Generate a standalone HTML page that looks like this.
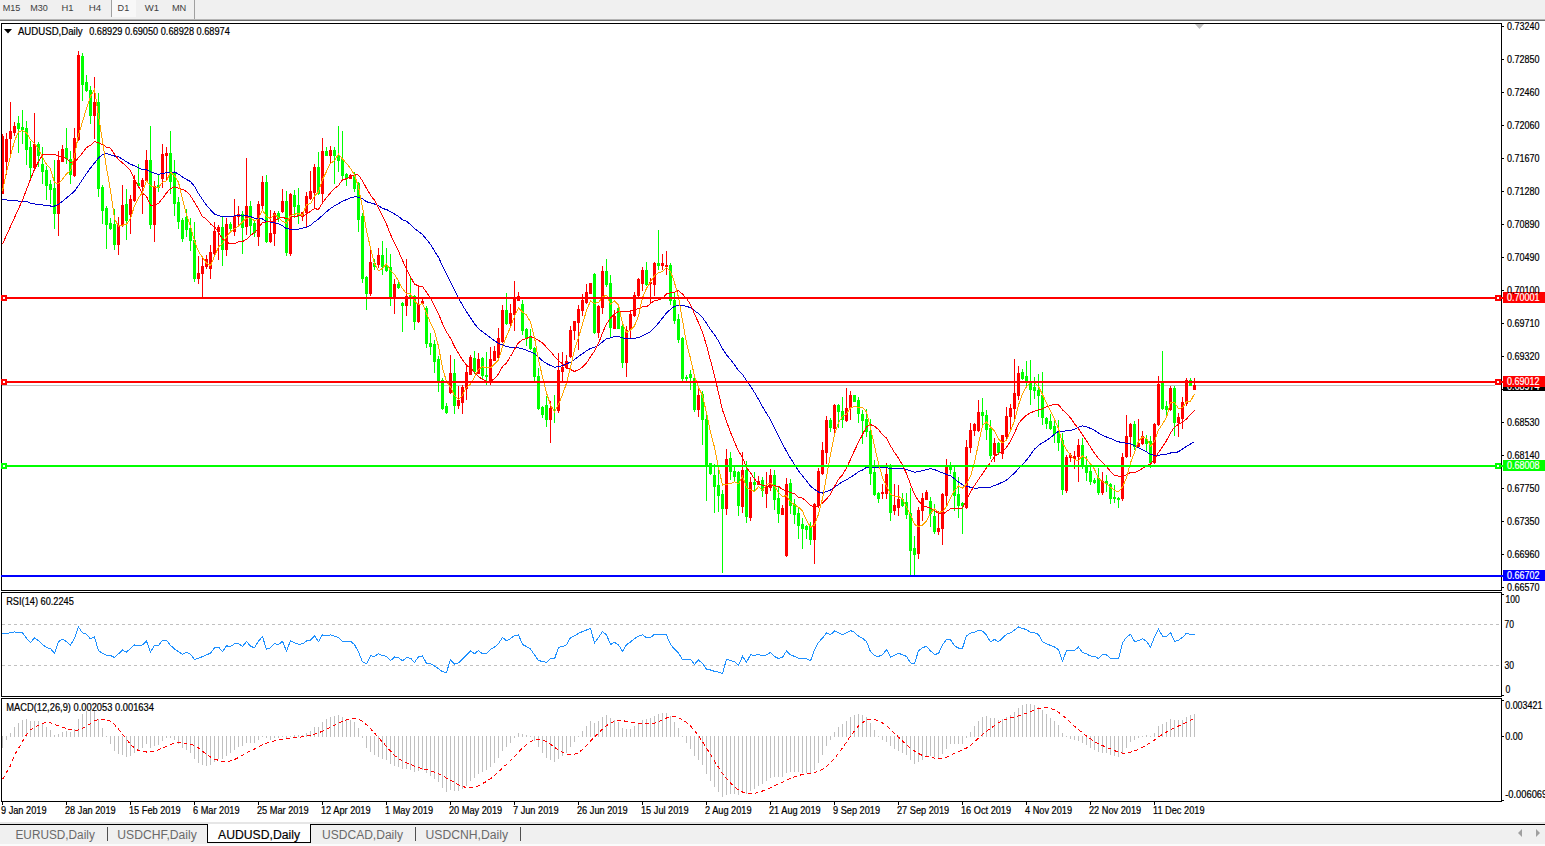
<!DOCTYPE html>
<html><head><meta charset="utf-8"><style>
html,body{margin:0;padding:0;background:#fff;width:1545px;height:846px;overflow:hidden;}
svg{position:absolute;left:0;top:0;}
text{font-family:"Liberation Sans",sans-serif;white-space:pre;stroke:currentColor;stroke-width:0.2px;}
</style></head><body>
<svg width="1545" height="846" viewBox="0 0 1545 846" shape-rendering="crispEdges">
<rect x="0" y="0" width="1545" height="19" fill="#f0f0f0"/>
<rect x="112" y="0" width="24" height="17" fill="#f8f8f8"/>
<rect x="0" y="19" width="1545" height="1" fill="#b4b4b4"/>
<rect x="0" y="20" width="1545" height="1" fill="#6e6e6e"/>
<rect x="111" y="0" width="1" height="17" fill="#a0a0a0"/>
<rect x="194" y="0" width="1" height="19" fill="#a0a0a0"/>
<polygon points="1195,24 1204,24 1199.5,29" fill="#c0c0c0" shape-rendering="auto"/>

<rect x="2" y="385" width="1493" height="1" fill="#c0c0c0"/>
<g><rect x="2" y="134" width="1" height="60" fill="#ff0000"/>
<rect x="1" y="136" width="3" height="58" fill="#ff0000"/>
<rect x="6" y="133" width="1" height="42" fill="#ff0000"/>
<rect x="5" y="139" width="3" height="23" fill="#ff0000"/>
<rect x="10" y="102" width="1" height="54" fill="#ff0000"/>
<rect x="9" y="131" width="3" height="8" fill="#ff0000"/>
<rect x="14" y="122" width="1" height="14" fill="#ff0000"/>
<rect x="13" y="126" width="3" height="7" fill="#ff0000"/>
<rect x="18" y="116" width="1" height="37" fill="#00ff00"/>
<rect x="17" y="123" width="3" height="6" fill="#00ff00"/>
<rect x="22" y="110" width="1" height="34" fill="#00ff00"/>
<rect x="21" y="127" width="3" height="3" fill="#00ff00"/>
<rect x="26" y="121" width="1" height="44" fill="#00ff00"/>
<rect x="25" y="128" width="3" height="22" fill="#00ff00"/>
<rect x="30" y="141" width="1" height="37" fill="#00ff00"/>
<rect x="29" y="147" width="3" height="21" fill="#00ff00"/>
<rect x="34" y="113" width="1" height="56" fill="#ff0000"/>
<rect x="33" y="144" width="3" height="24" fill="#ff0000"/>
<rect x="38" y="142" width="1" height="25" fill="#00ff00"/>
<rect x="37" y="144" width="3" height="12" fill="#00ff00"/>
<rect x="42" y="147" width="1" height="37" fill="#00ff00"/>
<rect x="41" y="164" width="3" height="8" fill="#00ff00"/>
<rect x="46" y="166" width="1" height="34" fill="#00ff00"/>
<rect x="45" y="170" width="3" height="16" fill="#00ff00"/>
<rect x="50" y="180" width="1" height="24" fill="#00ff00"/>
<rect x="49" y="184" width="3" height="6" fill="#00ff00"/>
<rect x="54" y="160" width="1" height="69" fill="#00ff00"/>
<rect x="53" y="188" width="3" height="26" fill="#00ff00"/>
<rect x="58" y="151" width="1" height="85" fill="#ff0000"/>
<rect x="57" y="160" width="3" height="54" fill="#ff0000"/>
<rect x="62" y="145" width="1" height="17" fill="#ff0000"/>
<rect x="61" y="149" width="3" height="13" fill="#ff0000"/>
<rect x="66" y="128" width="1" height="36" fill="#00ff00"/>
<rect x="65" y="148" width="3" height="11" fill="#00ff00"/>
<rect x="70" y="151" width="1" height="33" fill="#00ff00"/>
<rect x="69" y="159" width="3" height="16" fill="#00ff00"/>
<rect x="74" y="128" width="1" height="49" fill="#ff0000"/>
<rect x="73" y="138" width="3" height="38" fill="#ff0000"/>
<rect x="78" y="51" width="1" height="90" fill="#ff0000"/>
<rect x="77" y="55" width="3" height="85" fill="#ff0000"/>
<rect x="82" y="53" width="1" height="48" fill="#00ff00"/>
<rect x="81" y="56" width="3" height="29" fill="#00ff00"/>
<rect x="86" y="75" width="1" height="17" fill="#00ff00"/>
<rect x="85" y="82" width="3" height="9" fill="#00ff00"/>
<rect x="90" y="86" width="1" height="38" fill="#00ff00"/>
<rect x="89" y="90" width="3" height="26" fill="#00ff00"/>
<rect x="94" y="77" width="1" height="62" fill="#ff0000"/>
<rect x="93" y="102" width="3" height="14" fill="#ff0000"/>
<rect x="98" y="93" width="1" height="104" fill="#00ff00"/>
<rect x="97" y="102" width="3" height="87" fill="#00ff00"/>
<rect x="102" y="185" width="1" height="39" fill="#00ff00"/>
<rect x="101" y="187" width="3" height="24" fill="#00ff00"/>
<rect x="106" y="206" width="1" height="43" fill="#00ff00"/>
<rect x="105" y="208" width="3" height="17" fill="#00ff00"/>
<rect x="110" y="218" width="1" height="12" fill="#00ff00"/>
<rect x="109" y="223" width="3" height="6" fill="#00ff00"/>
<rect x="114" y="209" width="1" height="41" fill="#00ff00"/>
<rect x="113" y="224" width="3" height="21" fill="#00ff00"/>
<rect x="118" y="217" width="1" height="38" fill="#ff0000"/>
<rect x="117" y="225" width="3" height="20" fill="#ff0000"/>
<rect x="122" y="185" width="1" height="42" fill="#ff0000"/>
<rect x="121" y="205" width="3" height="21" fill="#ff0000"/>
<rect x="126" y="189" width="1" height="51" fill="#00ff00"/>
<rect x="125" y="204" width="3" height="17" fill="#00ff00"/>
<rect x="130" y="195" width="1" height="39" fill="#ff0000"/>
<rect x="129" y="199" width="3" height="16" fill="#ff0000"/>
<rect x="134" y="175" width="1" height="27" fill="#ff0000"/>
<rect x="133" y="180" width="3" height="21" fill="#ff0000"/>
<rect x="138" y="164" width="1" height="23" fill="#00ff00"/>
<rect x="137" y="183" width="3" height="3" fill="#00ff00"/>
<rect x="142" y="178" width="1" height="36" fill="#ff0000"/>
<rect x="141" y="180" width="3" height="7" fill="#ff0000"/>
<rect x="146" y="150" width="1" height="32" fill="#ff0000"/>
<rect x="145" y="160" width="3" height="21" fill="#ff0000"/>
<rect x="150" y="126" width="1" height="103" fill="#00ff00"/>
<rect x="149" y="160" width="3" height="65" fill="#00ff00"/>
<rect x="154" y="181" width="1" height="61" fill="#ff0000"/>
<rect x="153" y="186" width="3" height="39" fill="#ff0000"/>
<rect x="158" y="175" width="1" height="17" fill="#00ff00"/>
<rect x="157" y="185" width="3" height="3" fill="#00ff00"/>
<rect x="162" y="144" width="1" height="44" fill="#ff0000"/>
<rect x="161" y="154" width="3" height="25" fill="#ff0000"/>
<rect x="166" y="147" width="1" height="34" fill="#ff0000"/>
<rect x="165" y="153" width="3" height="3" fill="#ff0000"/>
<rect x="170" y="131" width="1" height="63" fill="#00ff00"/>
<rect x="169" y="153" width="3" height="29" fill="#00ff00"/>
<rect x="174" y="160" width="1" height="56" fill="#00ff00"/>
<rect x="173" y="173" width="3" height="31" fill="#00ff00"/>
<rect x="178" y="197" width="1" height="32" fill="#00ff00"/>
<rect x="177" y="202" width="3" height="20" fill="#00ff00"/>
<rect x="182" y="218" width="1" height="24" fill="#00ff00"/>
<rect x="181" y="220" width="3" height="19" fill="#00ff00"/>
<rect x="186" y="209" width="1" height="28" fill="#00ff00"/>
<rect x="185" y="217" width="3" height="13" fill="#00ff00"/>
<rect x="190" y="218" width="1" height="33" fill="#00ff00"/>
<rect x="189" y="228" width="3" height="13" fill="#00ff00"/>
<rect x="194" y="222" width="1" height="60" fill="#00ff00"/>
<rect x="193" y="240" width="3" height="39" fill="#00ff00"/>
<rect x="198" y="256" width="1" height="28" fill="#ff0000"/>
<rect x="197" y="273" width="3" height="6" fill="#ff0000"/>
<rect x="202" y="258" width="1" height="41" fill="#ff0000"/>
<rect x="201" y="266" width="3" height="8" fill="#ff0000"/>
<rect x="206" y="255" width="1" height="14" fill="#ff0000"/>
<rect x="205" y="259" width="3" height="8" fill="#ff0000"/>
<rect x="210" y="245" width="1" height="34" fill="#ff0000"/>
<rect x="209" y="252" width="3" height="17" fill="#ff0000"/>
<rect x="214" y="222" width="1" height="33" fill="#ff0000"/>
<rect x="213" y="231" width="3" height="23" fill="#ff0000"/>
<rect x="218" y="225" width="1" height="35" fill="#ff0000"/>
<rect x="217" y="227" width="3" height="5" fill="#ff0000"/>
<rect x="222" y="217" width="1" height="49" fill="#00ff00"/>
<rect x="221" y="227" width="3" height="23" fill="#00ff00"/>
<rect x="226" y="218" width="1" height="38" fill="#ff0000"/>
<rect x="225" y="224" width="3" height="26" fill="#ff0000"/>
<rect x="230" y="222" width="1" height="10" fill="#00ff00"/>
<rect x="229" y="224" width="3" height="5" fill="#00ff00"/>
<rect x="234" y="199" width="1" height="37" fill="#ff0000"/>
<rect x="233" y="216" width="3" height="16" fill="#ff0000"/>
<rect x="238" y="206" width="1" height="20" fill="#ff0000"/>
<rect x="237" y="214" width="3" height="3" fill="#ff0000"/>
<rect x="242" y="211" width="1" height="43" fill="#00ff00"/>
<rect x="241" y="214" width="3" height="14" fill="#00ff00"/>
<rect x="246" y="158" width="1" height="77" fill="#ff0000"/>
<rect x="245" y="206" width="3" height="21" fill="#ff0000"/>
<rect x="250" y="201" width="1" height="35" fill="#00ff00"/>
<rect x="249" y="206" width="3" height="20" fill="#00ff00"/>
<rect x="254" y="220" width="1" height="17" fill="#00ff00"/>
<rect x="253" y="223" width="3" height="10" fill="#00ff00"/>
<rect x="258" y="201" width="1" height="45" fill="#ff0000"/>
<rect x="257" y="204" width="3" height="33" fill="#ff0000"/>
<rect x="262" y="176" width="1" height="34" fill="#ff0000"/>
<rect x="261" y="182" width="3" height="24" fill="#ff0000"/>
<rect x="266" y="175" width="1" height="68" fill="#00ff00"/>
<rect x="265" y="182" width="3" height="60" fill="#00ff00"/>
<rect x="270" y="210" width="1" height="33" fill="#ff0000"/>
<rect x="269" y="233" width="3" height="9" fill="#ff0000"/>
<rect x="274" y="211" width="1" height="35" fill="#ff0000"/>
<rect x="273" y="213" width="3" height="21" fill="#ff0000"/>
<rect x="278" y="211" width="1" height="11" fill="#00ff00"/>
<rect x="277" y="213" width="3" height="6" fill="#00ff00"/>
<rect x="282" y="189" width="1" height="24" fill="#ff0000"/>
<rect x="281" y="201" width="3" height="11" fill="#ff0000"/>
<rect x="286" y="191" width="1" height="65" fill="#00ff00"/>
<rect x="285" y="201" width="3" height="52" fill="#00ff00"/>
<rect x="290" y="193" width="1" height="63" fill="#ff0000"/>
<rect x="289" y="194" width="3" height="60" fill="#ff0000"/>
<rect x="294" y="190" width="1" height="28" fill="#00ff00"/>
<rect x="293" y="195" width="3" height="12" fill="#00ff00"/>
<rect x="298" y="188" width="1" height="36" fill="#00ff00"/>
<rect x="297" y="205" width="3" height="10" fill="#00ff00"/>
<rect x="302" y="212" width="1" height="9" fill="#ff0000"/>
<rect x="301" y="212" width="3" height="5" fill="#ff0000"/>
<rect x="306" y="192" width="1" height="36" fill="#ff0000"/>
<rect x="305" y="196" width="3" height="17" fill="#ff0000"/>
<rect x="310" y="171" width="1" height="29" fill="#ff0000"/>
<rect x="309" y="191" width="3" height="8" fill="#ff0000"/>
<rect x="314" y="164" width="1" height="45" fill="#ff0000"/>
<rect x="313" y="167" width="3" height="26" fill="#ff0000"/>
<rect x="318" y="152" width="1" height="43" fill="#00ff00"/>
<rect x="317" y="167" width="3" height="27" fill="#00ff00"/>
<rect x="322" y="138" width="1" height="66" fill="#ff0000"/>
<rect x="321" y="151" width="3" height="43" fill="#ff0000"/>
<rect x="326" y="147" width="1" height="9" fill="#00ff00"/>
<rect x="325" y="151" width="3" height="5" fill="#00ff00"/>
<rect x="330" y="146" width="1" height="18" fill="#ff0000"/>
<rect x="329" y="150" width="3" height="6" fill="#ff0000"/>
<rect x="334" y="147" width="1" height="37" fill="#00ff00"/>
<rect x="333" y="150" width="3" height="6" fill="#00ff00"/>
<rect x="338" y="126" width="1" height="46" fill="#00ff00"/>
<rect x="337" y="155" width="3" height="6" fill="#00ff00"/>
<rect x="342" y="131" width="1" height="48" fill="#00ff00"/>
<rect x="341" y="159" width="3" height="17" fill="#00ff00"/>
<rect x="346" y="173" width="1" height="13" fill="#00ff00"/>
<rect x="345" y="174" width="3" height="4" fill="#00ff00"/>
<rect x="350" y="174" width="1" height="5" fill="#ff0000"/>
<rect x="349" y="175" width="3" height="4" fill="#ff0000"/>
<rect x="354" y="172" width="1" height="20" fill="#00ff00"/>
<rect x="353" y="175" width="3" height="14" fill="#00ff00"/>
<rect x="358" y="182" width="1" height="50" fill="#00ff00"/>
<rect x="357" y="183" width="3" height="37" fill="#00ff00"/>
<rect x="362" y="213" width="1" height="70" fill="#00ff00"/>
<rect x="361" y="216" width="3" height="63" fill="#00ff00"/>
<rect x="366" y="276" width="1" height="34" fill="#00ff00"/>
<rect x="365" y="277" width="3" height="17" fill="#00ff00"/>
<rect x="370" y="250" width="1" height="46" fill="#ff0000"/>
<rect x="369" y="262" width="3" height="32" fill="#ff0000"/>
<rect x="374" y="259" width="1" height="11" fill="#00ff00"/>
<rect x="373" y="263" width="3" height="4" fill="#00ff00"/>
<rect x="378" y="248" width="1" height="20" fill="#ff0000"/>
<rect x="377" y="255" width="3" height="10" fill="#ff0000"/>
<rect x="382" y="241" width="1" height="34" fill="#00ff00"/>
<rect x="381" y="255" width="3" height="12" fill="#00ff00"/>
<rect x="386" y="248" width="1" height="24" fill="#00ff00"/>
<rect x="385" y="265" width="3" height="6" fill="#00ff00"/>
<rect x="390" y="254" width="1" height="52" fill="#00ff00"/>
<rect x="389" y="267" width="3" height="31" fill="#00ff00"/>
<rect x="394" y="279" width="1" height="35" fill="#ff0000"/>
<rect x="393" y="284" width="3" height="14" fill="#ff0000"/>
<rect x="398" y="281" width="1" height="8" fill="#00ff00"/>
<rect x="397" y="284" width="3" height="4" fill="#00ff00"/>
<rect x="402" y="302" width="1" height="30" fill="#00ff00"/>
<rect x="401" y="303" width="3" height="3" fill="#00ff00"/>
<rect x="406" y="259" width="1" height="57" fill="#ff0000"/>
<rect x="405" y="296" width="3" height="10" fill="#ff0000"/>
<rect x="410" y="278" width="1" height="28" fill="#00ff00"/>
<rect x="409" y="295" width="3" height="3" fill="#00ff00"/>
<rect x="414" y="295" width="1" height="35" fill="#00ff00"/>
<rect x="413" y="296" width="3" height="26" fill="#00ff00"/>
<rect x="418" y="285" width="1" height="38" fill="#ff0000"/>
<rect x="417" y="304" width="3" height="18" fill="#ff0000"/>
<rect x="422" y="299" width="1" height="6" fill="#ff0000"/>
<rect x="421" y="301" width="3" height="3" fill="#ff0000"/>
<rect x="426" y="306" width="1" height="42" fill="#00ff00"/>
<rect x="425" y="308" width="3" height="36" fill="#00ff00"/>
<rect x="430" y="333" width="1" height="22" fill="#00ff00"/>
<rect x="429" y="343" width="3" height="4" fill="#00ff00"/>
<rect x="434" y="340" width="1" height="33" fill="#00ff00"/>
<rect x="433" y="344" width="3" height="18" fill="#00ff00"/>
<rect x="438" y="356" width="1" height="36" fill="#00ff00"/>
<rect x="437" y="359" width="3" height="23" fill="#00ff00"/>
<rect x="442" y="378" width="1" height="32" fill="#00ff00"/>
<rect x="441" y="380" width="3" height="29" fill="#00ff00"/>
<rect x="446" y="403" width="1" height="11" fill="#00ff00"/>
<rect x="445" y="406" width="3" height="7" fill="#00ff00"/>
<rect x="450" y="355" width="1" height="39" fill="#ff0000"/>
<rect x="449" y="373" width="3" height="20" fill="#ff0000"/>
<rect x="454" y="359" width="1" height="55" fill="#00ff00"/>
<rect x="453" y="373" width="3" height="33" fill="#00ff00"/>
<rect x="458" y="386" width="1" height="23" fill="#ff0000"/>
<rect x="457" y="400" width="3" height="6" fill="#ff0000"/>
<rect x="462" y="385" width="1" height="29" fill="#ff0000"/>
<rect x="461" y="387" width="3" height="16" fill="#ff0000"/>
<rect x="466" y="365" width="1" height="35" fill="#ff0000"/>
<rect x="465" y="372" width="3" height="17" fill="#ff0000"/>
<rect x="470" y="355" width="1" height="20" fill="#ff0000"/>
<rect x="469" y="357" width="3" height="18" fill="#ff0000"/>
<rect x="474" y="351" width="1" height="23" fill="#00ff00"/>
<rect x="473" y="358" width="3" height="14" fill="#00ff00"/>
<rect x="478" y="353" width="1" height="21" fill="#ff0000"/>
<rect x="477" y="359" width="3" height="15" fill="#ff0000"/>
<rect x="482" y="357" width="1" height="22" fill="#00ff00"/>
<rect x="481" y="358" width="3" height="18" fill="#00ff00"/>
<rect x="486" y="352" width="1" height="33" fill="#00ff00"/>
<rect x="485" y="375" width="3" height="2" fill="#00ff00"/>
<rect x="490" y="347" width="1" height="38" fill="#ff0000"/>
<rect x="489" y="359" width="3" height="22" fill="#ff0000"/>
<rect x="494" y="346" width="1" height="15" fill="#ff0000"/>
<rect x="493" y="351" width="3" height="10" fill="#ff0000"/>
<rect x="498" y="328" width="1" height="32" fill="#ff0000"/>
<rect x="497" y="338" width="3" height="20" fill="#ff0000"/>
<rect x="502" y="305" width="1" height="38" fill="#ff0000"/>
<rect x="501" y="310" width="3" height="32" fill="#ff0000"/>
<rect x="506" y="293" width="1" height="32" fill="#00ff00"/>
<rect x="505" y="310" width="3" height="14" fill="#00ff00"/>
<rect x="510" y="304" width="1" height="24" fill="#ff0000"/>
<rect x="509" y="313" width="3" height="11" fill="#ff0000"/>
<rect x="514" y="281" width="1" height="50" fill="#ff0000"/>
<rect x="513" y="298" width="3" height="17" fill="#ff0000"/>
<rect x="518" y="292" width="1" height="9" fill="#ff0000"/>
<rect x="517" y="296" width="3" height="5" fill="#ff0000"/>
<rect x="522" y="300" width="1" height="35" fill="#00ff00"/>
<rect x="521" y="304" width="3" height="27" fill="#00ff00"/>
<rect x="526" y="328" width="1" height="18" fill="#00ff00"/>
<rect x="525" y="329" width="3" height="10" fill="#00ff00"/>
<rect x="530" y="329" width="1" height="21" fill="#00ff00"/>
<rect x="529" y="336" width="3" height="13" fill="#00ff00"/>
<rect x="534" y="347" width="1" height="34" fill="#00ff00"/>
<rect x="533" y="348" width="3" height="29" fill="#00ff00"/>
<rect x="538" y="368" width="1" height="42" fill="#00ff00"/>
<rect x="537" y="376" width="3" height="33" fill="#00ff00"/>
<rect x="542" y="406" width="1" height="12" fill="#00ff00"/>
<rect x="541" y="407" width="3" height="8" fill="#00ff00"/>
<rect x="546" y="396" width="1" height="31" fill="#00ff00"/>
<rect x="545" y="405" width="3" height="15" fill="#00ff00"/>
<rect x="550" y="401" width="1" height="42" fill="#ff0000"/>
<rect x="549" y="408" width="3" height="12" fill="#ff0000"/>
<rect x="554" y="395" width="1" height="28" fill="#00ff00"/>
<rect x="553" y="409" width="3" height="2" fill="#00ff00"/>
<rect x="558" y="353" width="1" height="60" fill="#ff0000"/>
<rect x="557" y="370" width="3" height="41" fill="#ff0000"/>
<rect x="562" y="352" width="1" height="30" fill="#ff0000"/>
<rect x="561" y="367" width="3" height="5" fill="#ff0000"/>
<rect x="566" y="355" width="1" height="14" fill="#ff0000"/>
<rect x="565" y="361" width="3" height="7" fill="#ff0000"/>
<rect x="570" y="326" width="1" height="32" fill="#ff0000"/>
<rect x="569" y="330" width="3" height="27" fill="#ff0000"/>
<rect x="574" y="321" width="1" height="19" fill="#ff0000"/>
<rect x="573" y="321" width="3" height="10" fill="#ff0000"/>
<rect x="578" y="305" width="1" height="45" fill="#ff0000"/>
<rect x="577" y="309" width="3" height="14" fill="#ff0000"/>
<rect x="582" y="294" width="1" height="22" fill="#ff0000"/>
<rect x="581" y="300" width="3" height="11" fill="#ff0000"/>
<rect x="586" y="284" width="1" height="20" fill="#ff0000"/>
<rect x="585" y="292" width="3" height="11" fill="#ff0000"/>
<rect x="590" y="283" width="1" height="11" fill="#ff0000"/>
<rect x="589" y="283" width="3" height="11" fill="#ff0000"/>
<rect x="594" y="273" width="1" height="61" fill="#00ff00"/>
<rect x="593" y="274" width="3" height="59" fill="#00ff00"/>
<rect x="598" y="305" width="1" height="33" fill="#ff0000"/>
<rect x="597" y="306" width="3" height="27" fill="#ff0000"/>
<rect x="602" y="266" width="1" height="48" fill="#ff0000"/>
<rect x="601" y="271" width="3" height="37" fill="#ff0000"/>
<rect x="606" y="259" width="1" height="28" fill="#00ff00"/>
<rect x="605" y="271" width="3" height="14" fill="#00ff00"/>
<rect x="610" y="275" width="1" height="62" fill="#00ff00"/>
<rect x="609" y="283" width="3" height="45" fill="#00ff00"/>
<rect x="614" y="310" width="1" height="19" fill="#ff0000"/>
<rect x="613" y="316" width="3" height="13" fill="#ff0000"/>
<rect x="618" y="305" width="1" height="24" fill="#00ff00"/>
<rect x="617" y="308" width="3" height="21" fill="#00ff00"/>
<rect x="622" y="321" width="1" height="47" fill="#00ff00"/>
<rect x="621" y="326" width="3" height="37" fill="#00ff00"/>
<rect x="626" y="326" width="1" height="51" fill="#ff0000"/>
<rect x="625" y="330" width="3" height="33" fill="#ff0000"/>
<rect x="630" y="310" width="1" height="28" fill="#ff0000"/>
<rect x="629" y="314" width="3" height="16" fill="#ff0000"/>
<rect x="634" y="292" width="1" height="25" fill="#ff0000"/>
<rect x="633" y="295" width="3" height="21" fill="#ff0000"/>
<rect x="638" y="278" width="1" height="19" fill="#ff0000"/>
<rect x="637" y="279" width="3" height="17" fill="#ff0000"/>
<rect x="642" y="267" width="1" height="24" fill="#ff0000"/>
<rect x="641" y="270" width="3" height="14" fill="#ff0000"/>
<rect x="646" y="262" width="1" height="24" fill="#00ff00"/>
<rect x="645" y="270" width="3" height="15" fill="#00ff00"/>
<rect x="650" y="278" width="1" height="26" fill="#ff0000"/>
<rect x="649" y="282" width="3" height="2" fill="#ff0000"/>
<rect x="654" y="262" width="1" height="34" fill="#ff0000"/>
<rect x="653" y="263" width="3" height="22" fill="#ff0000"/>
<rect x="658" y="230" width="1" height="40" fill="#00ff00"/>
<rect x="657" y="263" width="3" height="3" fill="#00ff00"/>
<rect x="662" y="254" width="1" height="16" fill="#ff0000"/>
<rect x="661" y="263" width="3" height="3" fill="#ff0000"/>
<rect x="666" y="251" width="1" height="24" fill="#ff0000"/>
<rect x="665" y="265" width="3" height="2" fill="#ff0000"/>
<rect x="670" y="263" width="1" height="42" fill="#00ff00"/>
<rect x="669" y="265" width="3" height="36" fill="#00ff00"/>
<rect x="674" y="293" width="1" height="31" fill="#00ff00"/>
<rect x="673" y="300" width="3" height="21" fill="#00ff00"/>
<rect x="678" y="314" width="1" height="29" fill="#00ff00"/>
<rect x="677" y="319" width="3" height="21" fill="#00ff00"/>
<rect x="682" y="337" width="1" height="44" fill="#00ff00"/>
<rect x="681" y="338" width="3" height="41" fill="#00ff00"/>
<rect x="686" y="375" width="1" height="6" fill="#00ff00"/>
<rect x="685" y="377" width="3" height="2" fill="#00ff00"/>
<rect x="690" y="370" width="1" height="20" fill="#00ff00"/>
<rect x="689" y="374" width="3" height="4" fill="#00ff00"/>
<rect x="694" y="377" width="1" height="35" fill="#00ff00"/>
<rect x="693" y="378" width="3" height="32" fill="#00ff00"/>
<rect x="698" y="389" width="1" height="28" fill="#ff0000"/>
<rect x="697" y="395" width="3" height="15" fill="#ff0000"/>
<rect x="702" y="391" width="1" height="54" fill="#00ff00"/>
<rect x="701" y="394" width="3" height="26" fill="#00ff00"/>
<rect x="706" y="415" width="1" height="86" fill="#00ff00"/>
<rect x="705" y="419" width="3" height="46" fill="#00ff00"/>
<rect x="710" y="463" width="1" height="12" fill="#00ff00"/>
<rect x="709" y="463" width="3" height="11" fill="#00ff00"/>
<rect x="714" y="464" width="1" height="49" fill="#00ff00"/>
<rect x="713" y="475" width="3" height="12" fill="#00ff00"/>
<rect x="718" y="470" width="1" height="42" fill="#00ff00"/>
<rect x="717" y="485" width="3" height="11" fill="#00ff00"/>
<rect x="722" y="490" width="1" height="83" fill="#00ff00"/>
<rect x="721" y="494" width="3" height="15" fill="#00ff00"/>
<rect x="726" y="449" width="1" height="66" fill="#ff0000"/>
<rect x="725" y="459" width="3" height="50" fill="#ff0000"/>
<rect x="730" y="452" width="1" height="28" fill="#00ff00"/>
<rect x="729" y="458" width="3" height="14" fill="#00ff00"/>
<rect x="734" y="467" width="1" height="14" fill="#00ff00"/>
<rect x="733" y="471" width="3" height="6" fill="#00ff00"/>
<rect x="738" y="471" width="1" height="45" fill="#00ff00"/>
<rect x="737" y="472" width="3" height="34" fill="#00ff00"/>
<rect x="742" y="452" width="1" height="61" fill="#ff0000"/>
<rect x="741" y="470" width="3" height="37" fill="#ff0000"/>
<rect x="746" y="461" width="1" height="62" fill="#00ff00"/>
<rect x="745" y="470" width="3" height="47" fill="#00ff00"/>
<rect x="750" y="477" width="1" height="44" fill="#ff0000"/>
<rect x="749" y="482" width="3" height="36" fill="#ff0000"/>
<rect x="754" y="472" width="1" height="20" fill="#00ff00"/>
<rect x="753" y="482" width="3" height="3" fill="#00ff00"/>
<rect x="758" y="476" width="1" height="9" fill="#ff0000"/>
<rect x="757" y="481" width="3" height="4" fill="#ff0000"/>
<rect x="762" y="477" width="1" height="20" fill="#00ff00"/>
<rect x="761" y="480" width="3" height="11" fill="#00ff00"/>
<rect x="766" y="472" width="1" height="36" fill="#ff0000"/>
<rect x="765" y="486" width="3" height="8" fill="#ff0000"/>
<rect x="770" y="469" width="1" height="22" fill="#ff0000"/>
<rect x="769" y="475" width="3" height="13" fill="#ff0000"/>
<rect x="774" y="470" width="1" height="40" fill="#00ff00"/>
<rect x="773" y="475" width="3" height="25" fill="#00ff00"/>
<rect x="778" y="487" width="1" height="36" fill="#00ff00"/>
<rect x="777" y="498" width="3" height="16" fill="#00ff00"/>
<rect x="782" y="505" width="1" height="10" fill="#ff0000"/>
<rect x="781" y="508" width="3" height="7" fill="#ff0000"/>
<rect x="786" y="478" width="1" height="79" fill="#ff0000"/>
<rect x="785" y="484" width="3" height="72" fill="#ff0000"/>
<rect x="790" y="479" width="1" height="35" fill="#00ff00"/>
<rect x="789" y="483" width="3" height="23" fill="#00ff00"/>
<rect x="794" y="499" width="1" height="25" fill="#00ff00"/>
<rect x="793" y="504" width="3" height="11" fill="#00ff00"/>
<rect x="798" y="508" width="1" height="31" fill="#00ff00"/>
<rect x="797" y="513" width="3" height="13" fill="#00ff00"/>
<rect x="802" y="518" width="1" height="31" fill="#00ff00"/>
<rect x="801" y="524" width="3" height="5" fill="#00ff00"/>
<rect x="806" y="525" width="1" height="14" fill="#00ff00"/>
<rect x="805" y="526" width="3" height="4" fill="#00ff00"/>
<rect x="810" y="522" width="1" height="23" fill="#00ff00"/>
<rect x="809" y="526" width="3" height="14" fill="#00ff00"/>
<rect x="814" y="503" width="1" height="61" fill="#ff0000"/>
<rect x="813" y="504" width="3" height="36" fill="#ff0000"/>
<rect x="818" y="468" width="1" height="40" fill="#ff0000"/>
<rect x="817" y="471" width="3" height="35" fill="#ff0000"/>
<rect x="822" y="442" width="1" height="33" fill="#ff0000"/>
<rect x="821" y="450" width="3" height="24" fill="#ff0000"/>
<rect x="826" y="416" width="1" height="48" fill="#ff0000"/>
<rect x="825" y="420" width="3" height="33" fill="#ff0000"/>
<rect x="830" y="418" width="1" height="14" fill="#00ff00"/>
<rect x="829" y="420" width="3" height="8" fill="#00ff00"/>
<rect x="834" y="404" width="1" height="31" fill="#ff0000"/>
<rect x="833" y="405" width="3" height="24" fill="#ff0000"/>
<rect x="838" y="404" width="1" height="24" fill="#00ff00"/>
<rect x="837" y="405" width="3" height="7" fill="#00ff00"/>
<rect x="842" y="397" width="1" height="31" fill="#00ff00"/>
<rect x="841" y="411" width="3" height="9" fill="#00ff00"/>
<rect x="846" y="388" width="1" height="34" fill="#ff0000"/>
<rect x="845" y="408" width="3" height="13" fill="#ff0000"/>
<rect x="850" y="391" width="1" height="29" fill="#ff0000"/>
<rect x="849" y="395" width="3" height="13" fill="#ff0000"/>
<rect x="854" y="395" width="1" height="7" fill="#00ff00"/>
<rect x="853" y="395" width="3" height="7" fill="#00ff00"/>
<rect x="858" y="397" width="1" height="26" fill="#00ff00"/>
<rect x="857" y="400" width="3" height="14" fill="#00ff00"/>
<rect x="862" y="410" width="1" height="34" fill="#00ff00"/>
<rect x="861" y="414" width="3" height="7" fill="#00ff00"/>
<rect x="866" y="409" width="1" height="28" fill="#00ff00"/>
<rect x="865" y="419" width="3" height="13" fill="#00ff00"/>
<rect x="870" y="419" width="1" height="66" fill="#00ff00"/>
<rect x="869" y="431" width="3" height="43" fill="#00ff00"/>
<rect x="874" y="460" width="1" height="36" fill="#00ff00"/>
<rect x="873" y="472" width="3" height="23" fill="#00ff00"/>
<rect x="878" y="492" width="1" height="11" fill="#00ff00"/>
<rect x="877" y="493" width="3" height="6" fill="#00ff00"/>
<rect x="882" y="484" width="1" height="15" fill="#ff0000"/>
<rect x="881" y="492" width="3" height="2" fill="#ff0000"/>
<rect x="886" y="463" width="1" height="36" fill="#ff0000"/>
<rect x="885" y="474" width="3" height="20" fill="#ff0000"/>
<rect x="890" y="464" width="1" height="57" fill="#00ff00"/>
<rect x="889" y="467" width="3" height="46" fill="#00ff00"/>
<rect x="894" y="484" width="1" height="31" fill="#ff0000"/>
<rect x="893" y="505" width="3" height="6" fill="#ff0000"/>
<rect x="898" y="485" width="1" height="31" fill="#ff0000"/>
<rect x="897" y="499" width="3" height="9" fill="#ff0000"/>
<rect x="902" y="493" width="1" height="14" fill="#00ff00"/>
<rect x="901" y="499" width="3" height="7" fill="#00ff00"/>
<rect x="906" y="493" width="1" height="26" fill="#00ff00"/>
<rect x="905" y="502" width="3" height="13" fill="#00ff00"/>
<rect x="910" y="488" width="1" height="88" fill="#00ff00"/>
<rect x="909" y="513" width="3" height="38" fill="#00ff00"/>
<rect x="914" y="536" width="1" height="40" fill="#00ff00"/>
<rect x="913" y="548" width="3" height="7" fill="#00ff00"/>
<rect x="918" y="507" width="1" height="52" fill="#ff0000"/>
<rect x="917" y="510" width="3" height="44" fill="#ff0000"/>
<rect x="922" y="493" width="1" height="28" fill="#ff0000"/>
<rect x="921" y="498" width="3" height="13" fill="#ff0000"/>
<rect x="926" y="490" width="1" height="10" fill="#ff0000"/>
<rect x="925" y="492" width="3" height="8" fill="#ff0000"/>
<rect x="930" y="497" width="1" height="30" fill="#00ff00"/>
<rect x="929" y="501" width="3" height="13" fill="#00ff00"/>
<rect x="934" y="504" width="1" height="30" fill="#00ff00"/>
<rect x="933" y="516" width="3" height="16" fill="#00ff00"/>
<rect x="938" y="511" width="1" height="24" fill="#ff0000"/>
<rect x="937" y="528" width="3" height="4" fill="#ff0000"/>
<rect x="942" y="493" width="1" height="52" fill="#ff0000"/>
<rect x="941" y="494" width="3" height="35" fill="#ff0000"/>
<rect x="946" y="459" width="1" height="47" fill="#ff0000"/>
<rect x="945" y="467" width="3" height="29" fill="#ff0000"/>
<rect x="950" y="462" width="1" height="12" fill="#00ff00"/>
<rect x="949" y="467" width="3" height="3" fill="#00ff00"/>
<rect x="954" y="466" width="1" height="45" fill="#00ff00"/>
<rect x="953" y="472" width="3" height="24" fill="#00ff00"/>
<rect x="958" y="477" width="1" height="41" fill="#00ff00"/>
<rect x="957" y="494" width="3" height="12" fill="#00ff00"/>
<rect x="962" y="502" width="1" height="32" fill="#00ff00"/>
<rect x="961" y="503" width="3" height="3" fill="#00ff00"/>
<rect x="966" y="440" width="1" height="69" fill="#ff0000"/>
<rect x="965" y="447" width="3" height="61" fill="#ff0000"/>
<rect x="970" y="423" width="1" height="30" fill="#ff0000"/>
<rect x="969" y="430" width="3" height="18" fill="#ff0000"/>
<rect x="974" y="423" width="1" height="13" fill="#ff0000"/>
<rect x="973" y="424" width="3" height="7" fill="#ff0000"/>
<rect x="978" y="400" width="1" height="32" fill="#ff0000"/>
<rect x="977" y="412" width="3" height="19" fill="#ff0000"/>
<rect x="982" y="398" width="1" height="27" fill="#00ff00"/>
<rect x="981" y="412" width="3" height="4" fill="#00ff00"/>
<rect x="986" y="410" width="1" height="30" fill="#00ff00"/>
<rect x="985" y="415" width="3" height="15" fill="#00ff00"/>
<rect x="990" y="420" width="1" height="39" fill="#00ff00"/>
<rect x="989" y="428" width="3" height="28" fill="#00ff00"/>
<rect x="994" y="438" width="1" height="24" fill="#ff0000"/>
<rect x="993" y="443" width="3" height="12" fill="#ff0000"/>
<rect x="998" y="442" width="1" height="13" fill="#00ff00"/>
<rect x="997" y="443" width="3" height="10" fill="#00ff00"/>
<rect x="1002" y="435" width="1" height="24" fill="#ff0000"/>
<rect x="1001" y="435" width="3" height="19" fill="#ff0000"/>
<rect x="1006" y="407" width="1" height="33" fill="#ff0000"/>
<rect x="1005" y="416" width="3" height="21" fill="#ff0000"/>
<rect x="1010" y="404" width="1" height="25" fill="#ff0000"/>
<rect x="1009" y="408" width="3" height="9" fill="#ff0000"/>
<rect x="1014" y="359" width="1" height="60" fill="#ff0000"/>
<rect x="1013" y="393" width="3" height="16" fill="#ff0000"/>
<rect x="1018" y="366" width="1" height="34" fill="#ff0000"/>
<rect x="1017" y="373" width="3" height="23" fill="#ff0000"/>
<rect x="1022" y="369" width="1" height="11" fill="#00ff00"/>
<rect x="1021" y="372" width="3" height="7" fill="#00ff00"/>
<rect x="1026" y="361" width="1" height="25" fill="#00ff00"/>
<rect x="1025" y="376" width="3" height="6" fill="#00ff00"/>
<rect x="1030" y="360" width="1" height="45" fill="#00ff00"/>
<rect x="1029" y="383" width="3" height="7" fill="#00ff00"/>
<rect x="1034" y="377" width="1" height="22" fill="#00ff00"/>
<rect x="1033" y="387" width="3" height="4" fill="#00ff00"/>
<rect x="1038" y="374" width="1" height="43" fill="#00ff00"/>
<rect x="1037" y="390" width="3" height="6" fill="#00ff00"/>
<rect x="1042" y="372" width="1" height="53" fill="#00ff00"/>
<rect x="1041" y="395" width="3" height="23" fill="#00ff00"/>
<rect x="1046" y="417" width="1" height="12" fill="#00ff00"/>
<rect x="1045" y="418" width="3" height="6" fill="#00ff00"/>
<rect x="1050" y="414" width="1" height="16" fill="#00ff00"/>
<rect x="1049" y="421" width="3" height="8" fill="#00ff00"/>
<rect x="1054" y="420" width="1" height="23" fill="#00ff00"/>
<rect x="1053" y="426" width="3" height="8" fill="#00ff00"/>
<rect x="1058" y="420" width="1" height="31" fill="#00ff00"/>
<rect x="1057" y="432" width="3" height="11" fill="#00ff00"/>
<rect x="1062" y="433" width="1" height="62" fill="#00ff00"/>
<rect x="1061" y="440" width="3" height="50" fill="#00ff00"/>
<rect x="1066" y="455" width="1" height="38" fill="#ff0000"/>
<rect x="1065" y="457" width="3" height="34" fill="#ff0000"/>
<rect x="1070" y="453" width="1" height="9" fill="#ff0000"/>
<rect x="1069" y="455" width="3" height="3" fill="#ff0000"/>
<rect x="1074" y="451" width="1" height="18" fill="#ff0000"/>
<rect x="1073" y="456" width="3" height="3" fill="#ff0000"/>
<rect x="1078" y="439" width="1" height="43" fill="#ff0000"/>
<rect x="1077" y="445" width="3" height="12" fill="#ff0000"/>
<rect x="1082" y="438" width="1" height="31" fill="#00ff00"/>
<rect x="1081" y="445" width="3" height="22" fill="#00ff00"/>
<rect x="1086" y="456" width="1" height="25" fill="#00ff00"/>
<rect x="1085" y="465" width="3" height="8" fill="#00ff00"/>
<rect x="1090" y="466" width="1" height="19" fill="#00ff00"/>
<rect x="1089" y="471" width="3" height="11" fill="#00ff00"/>
<rect x="1094" y="478" width="1" height="6" fill="#00ff00"/>
<rect x="1093" y="480" width="3" height="3" fill="#00ff00"/>
<rect x="1098" y="468" width="1" height="27" fill="#00ff00"/>
<rect x="1097" y="478" width="3" height="15" fill="#00ff00"/>
<rect x="1102" y="472" width="1" height="23" fill="#ff0000"/>
<rect x="1101" y="481" width="3" height="12" fill="#ff0000"/>
<rect x="1106" y="475" width="1" height="17" fill="#00ff00"/>
<rect x="1105" y="481" width="3" height="3" fill="#00ff00"/>
<rect x="1110" y="483" width="1" height="21" fill="#00ff00"/>
<rect x="1109" y="484" width="3" height="15" fill="#00ff00"/>
<rect x="1114" y="485" width="1" height="18" fill="#00ff00"/>
<rect x="1113" y="497" width="3" height="2" fill="#00ff00"/>
<rect x="1118" y="497" width="1" height="11" fill="#00ff00"/>
<rect x="1117" y="498" width="3" height="2" fill="#00ff00"/>
<rect x="1122" y="453" width="1" height="48" fill="#ff0000"/>
<rect x="1121" y="457" width="3" height="42" fill="#ff0000"/>
<rect x="1126" y="415" width="1" height="43" fill="#ff0000"/>
<rect x="1125" y="436" width="3" height="21" fill="#ff0000"/>
<rect x="1130" y="423" width="1" height="34" fill="#ff0000"/>
<rect x="1129" y="424" width="3" height="13" fill="#ff0000"/>
<rect x="1134" y="421" width="1" height="29" fill="#00ff00"/>
<rect x="1133" y="424" width="3" height="23" fill="#00ff00"/>
<rect x="1138" y="419" width="1" height="29" fill="#ff0000"/>
<rect x="1137" y="443" width="3" height="4" fill="#ff0000"/>
<rect x="1142" y="431" width="1" height="14" fill="#ff0000"/>
<rect x="1141" y="436" width="3" height="8" fill="#ff0000"/>
<rect x="1146" y="435" width="1" height="17" fill="#00ff00"/>
<rect x="1145" y="439" width="3" height="5" fill="#00ff00"/>
<rect x="1150" y="436" width="1" height="32" fill="#00ff00"/>
<rect x="1149" y="441" width="3" height="22" fill="#00ff00"/>
<rect x="1154" y="423" width="1" height="41" fill="#ff0000"/>
<rect x="1153" y="424" width="3" height="39" fill="#ff0000"/>
<rect x="1158" y="376" width="1" height="50" fill="#ff0000"/>
<rect x="1157" y="384" width="3" height="41" fill="#ff0000"/>
<rect x="1162" y="351" width="1" height="59" fill="#00ff00"/>
<rect x="1161" y="383" width="3" height="26" fill="#00ff00"/>
<rect x="1166" y="401" width="1" height="15" fill="#00ff00"/>
<rect x="1165" y="406" width="3" height="4" fill="#00ff00"/>
<rect x="1170" y="386" width="1" height="25" fill="#ff0000"/>
<rect x="1169" y="388" width="3" height="22" fill="#ff0000"/>
<rect x="1174" y="386" width="1" height="50" fill="#00ff00"/>
<rect x="1173" y="388" width="3" height="35" fill="#00ff00"/>
<rect x="1178" y="413" width="1" height="24" fill="#ff0000"/>
<rect x="1177" y="417" width="3" height="6" fill="#ff0000"/>
<rect x="1182" y="397" width="1" height="32" fill="#ff0000"/>
<rect x="1181" y="402" width="3" height="17" fill="#ff0000"/>
<rect x="1186" y="378" width="1" height="28" fill="#ff0000"/>
<rect x="1185" y="380" width="3" height="24" fill="#ff0000"/>
<rect x="1190" y="378" width="1" height="8" fill="#00ff00"/>
<rect x="1189" y="380" width="3" height="6" fill="#00ff00"/>
<rect x="1194" y="378" width="1" height="12" fill="#ff0000"/>
<rect x="1193" y="385" width="3" height="5" fill="#ff0000"/></g>
<g><polyline points="2.5,199.5 6.5,200.0 10.5,200.4 14.5,200.9 18.5,201.0 22.5,201.0 26.5,201.5 30.5,203.1 34.5,204.0 38.5,204.5 42.5,205.0 46.5,205.5 50.5,206.0 54.5,206.0 58.5,204.5 62.5,201.2 66.5,197.9 70.5,194.6 74.5,191.3 78.5,185.5 82.5,179.5 86.5,173.4 90.5,168.0 94.5,163.0 98.5,158.0 102.5,154.6 106.5,153.5 110.5,154.9 114.5,156.0 118.5,156.9 122.5,159.2 126.5,161.9 130.5,164.1 134.5,165.9 138.5,167.8 142.5,169.5 146.5,169.9 150.5,171.8 154.5,173.2 158.5,174.3 162.5,173.7 166.5,172.6 170.5,172.4 174.5,172.0 178.5,174.1 182.5,177.0 186.5,179.4 190.5,181.6 194.5,186.3 198.5,193.5 202.5,199.6 206.5,205.2 210.5,209.8 214.5,214.1 218.5,215.4 222.5,216.7 226.5,216.7 230.5,216.7 234.5,215.8 238.5,215.4 242.5,216.1 246.5,215.7 250.5,216.5 254.5,218.3 258.5,218.9 262.5,219.0 266.5,221.7 270.5,222.0 274.5,222.9 278.5,223.9 282.5,225.5 286.5,228.8 290.5,229.2 294.5,229.3 298.5,229.1 302.5,228.2 306.5,227.1 310.5,225.5 314.5,221.8 318.5,219.1 322.5,215.3 326.5,211.8 330.5,208.4 334.5,205.9 338.5,203.6 342.5,201.2 346.5,199.6 350.5,197.8 354.5,196.9 358.5,197.1 362.5,198.8 366.5,201.7 370.5,202.9 374.5,204.0 378.5,205.7 382.5,208.5 386.5,209.5 390.5,211.6 394.5,214.0 398.5,216.3 402.5,219.8 406.5,221.2 410.5,224.7 414.5,228.5 418.5,231.5 422.5,234.5 426.5,239.4 430.5,244.5 434.5,251.0 438.5,257.3 442.5,265.8 446.5,274.4 450.5,281.8 454.5,290.2 458.5,298.2 462.5,305.2 466.5,311.7 470.5,317.8 474.5,323.9 478.5,328.6 482.5,331.8 486.5,334.6 490.5,337.8 494.5,340.6 498.5,343.4 502.5,344.9 506.5,346.6 510.5,347.2 514.5,347.6 518.5,347.9 522.5,348.8 526.5,350.2 530.5,351.9 534.5,353.7 538.5,357.2 542.5,360.9 546.5,363.5 550.5,365.5 554.5,367.2 558.5,366.8 562.5,365.4 566.5,363.7 570.5,362.3 574.5,359.5 578.5,356.5 582.5,353.6 586.5,350.9 590.5,348.4 594.5,347.1 598.5,345.4 602.5,341.9 606.5,338.8 610.5,337.8 614.5,336.6 618.5,336.3 622.5,338.0 626.5,338.2 630.5,338.3 634.5,338.2 638.5,337.6 642.5,335.6 646.5,333.8 650.5,331.6 654.5,327.8 658.5,323.1 662.5,318.0 666.5,312.9 670.5,309.3 674.5,306.3 678.5,305.3 682.5,305.6 686.5,306.2 690.5,307.8 694.5,310.7 698.5,313.6 702.5,317.5 706.5,323.3 710.5,329.6 714.5,334.7 718.5,341.0 722.5,348.9 726.5,354.8 730.5,359.6 734.5,364.9 738.5,370.8 742.5,374.4 746.5,380.6 750.5,386.2 754.5,392.5 758.5,399.2 762.5,406.6 766.5,413.3 770.5,419.7 774.5,427.6 778.5,435.9 782.5,444.0 786.5,451.3 790.5,458.2 794.5,464.6 798.5,470.8 802.5,475.8 806.5,480.9 810.5,486.3 814.5,489.4 818.5,492.0 822.5,493.0 826.5,491.5 830.5,490.0 834.5,487.3 838.5,484.5 842.5,481.5 846.5,479.8 850.5,477.3 854.5,474.8 858.5,471.7 862.5,470.1 866.5,467.2 870.5,466.9 874.5,467.3 878.5,467.8 882.5,467.9 886.5,467.5 890.5,468.7 894.5,468.9 898.5,468.5 902.5,468.4 906.5,469.4 910.5,470.9 914.5,472.2 918.5,471.7 922.5,470.7 926.5,469.5 930.5,468.6 934.5,469.5 938.5,471.4 942.5,472.9 946.5,474.4 950.5,475.8 954.5,478.8 958.5,482.0 962.5,484.8 966.5,486.1 970.5,487.3 974.5,488.1 978.5,488.0 982.5,487.9 986.5,487.8 990.5,487.2 994.5,485.5 998.5,484.0 1002.5,482.1 1006.5,480.1 1010.5,476.7 1014.5,472.9 1018.5,468.7 1022.5,464.5 1026.5,460.1 1030.5,454.7 1034.5,449.2 1038.5,445.4 1042.5,442.7 1046.5,440.4 1050.5,437.6 1054.5,434.3 1058.5,431.4 1062.5,431.3 1066.5,430.9 1070.5,430.5 1074.5,429.2 1078.5,427.2 1082.5,425.9 1086.5,426.7 1090.5,428.4 1094.5,430.3 1098.5,433.0 1102.5,435.2 1106.5,437.0 1110.5,438.4 1114.5,440.3 1118.5,441.8 1122.5,442.6 1126.5,443.2 1130.5,443.8 1134.5,445.5 1138.5,447.9 1142.5,449.8 1146.5,451.9 1150.5,454.3 1154.5,455.4 1158.5,455.1 1162.5,454.8 1166.5,454.3 1170.5,453.0 1174.5,452.6 1178.5,451.8 1182.5,448.9 1186.5,446.3 1190.5,444.0 1194.5,441.6" fill="none" stroke="#0000cd" stroke-width="1"/>
<polyline points="2.5,244.0 6.5,235.2 10.5,226.4 14.5,217.7 18.5,208.9 22.5,200.0 26.5,189.6 30.5,179.3 34.5,169.4 38.5,161.6 42.5,155.0 46.5,154.7 50.5,154.5 54.5,154.4 58.5,156.1 62.5,156.9 66.5,158.8 70.5,162.2 74.5,162.9 78.5,157.6 82.5,153.0 86.5,147.5 90.5,145.4 94.5,141.6 98.5,142.9 102.5,144.6 106.5,147.1 110.5,148.2 114.5,154.2 118.5,159.6 122.5,163.0 126.5,166.3 130.5,170.6 134.5,179.6 138.5,186.8 142.5,193.2 146.5,196.4 150.5,205.1 154.5,205.0 158.5,203.4 162.5,198.4 166.5,193.0 170.5,188.5 174.5,186.9 178.5,188.1 182.5,189.4 186.5,191.5 190.5,195.8 194.5,202.4 198.5,209.1 202.5,216.6 206.5,219.1 210.5,223.9 214.5,227.0 218.5,232.2 222.5,239.1 226.5,242.1 230.5,243.9 234.5,243.6 238.5,241.9 242.5,241.7 246.5,239.3 250.5,235.5 254.5,232.6 258.5,228.1 262.5,222.6 266.5,221.9 270.5,222.0 274.5,221.0 278.5,218.8 282.5,217.1 286.5,218.9 290.5,217.3 294.5,216.7 298.5,215.8 302.5,216.2 306.5,214.1 310.5,211.2 314.5,208.6 318.5,209.4 322.5,202.9 326.5,197.4 330.5,192.9 334.5,188.4 338.5,185.4 342.5,179.9 346.5,178.7 350.5,176.5 354.5,174.6 358.5,175.1 362.5,181.0 366.5,188.3 370.5,195.1 374.5,200.3 378.5,207.7 382.5,215.6 386.5,224.2 390.5,234.4 394.5,243.2 398.5,251.2 402.5,260.4 406.5,269.0 410.5,276.8 414.5,284.1 418.5,285.9 422.5,286.5 426.5,292.3 430.5,298.0 434.5,305.6 438.5,313.8 442.5,323.6 446.5,331.9 450.5,338.2 454.5,346.6 458.5,353.4 462.5,359.9 466.5,365.3 470.5,367.9 474.5,372.6 478.5,376.8 482.5,379.1 486.5,381.2 490.5,381.1 494.5,378.9 498.5,373.9 502.5,366.6 506.5,363.1 510.5,356.5 514.5,349.2 518.5,342.7 522.5,339.7 526.5,338.4 530.5,336.7 534.5,337.9 538.5,340.3 542.5,343.0 546.5,347.3 550.5,351.4 554.5,356.5 558.5,360.8 562.5,363.9 566.5,367.4 570.5,369.6 574.5,371.4 578.5,369.9 582.5,367.2 586.5,363.2 590.5,356.6 594.5,351.1 598.5,343.4 602.5,332.9 606.5,324.0 610.5,318.1 614.5,314.2 618.5,311.4 622.5,311.5 626.5,311.5 630.5,311.0 634.5,310.0 638.5,308.5 642.5,306.9 646.5,307.0 650.5,303.4 654.5,300.4 658.5,299.9 662.5,298.4 666.5,294.0 670.5,292.9 674.5,292.3 678.5,290.6 682.5,294.1 686.5,298.6 690.5,304.5 694.5,313.8 698.5,322.7 702.5,332.4 706.5,345.4 710.5,360.4 714.5,376.1 718.5,392.7 722.5,410.1 726.5,421.4 730.5,432.2 734.5,442.0 738.5,451.1 742.5,457.6 746.5,467.6 750.5,472.8 754.5,479.1 758.5,483.6 762.5,485.4 766.5,486.4 770.5,485.6 774.5,485.9 778.5,486.2 782.5,489.7 786.5,490.6 790.5,492.7 794.5,493.4 798.5,497.3 802.5,498.1 806.5,501.5 810.5,505.4 814.5,507.1 818.5,505.7 822.5,503.1 826.5,499.2 830.5,494.1 834.5,486.4 838.5,479.4 842.5,474.8 846.5,467.9 850.5,459.4 854.5,450.5 858.5,442.3 862.5,434.5 866.5,426.8 870.5,424.6 874.5,426.2 878.5,429.6 882.5,434.8 886.5,438.1 890.5,445.8 894.5,452.5 898.5,458.2 902.5,465.1 906.5,473.6 910.5,484.3 914.5,494.4 918.5,500.8 922.5,505.6 926.5,506.9 930.5,508.3 934.5,510.6 938.5,513.2 942.5,514.6 946.5,511.4 950.5,508.9 954.5,508.6 958.5,508.6 962.5,507.9 966.5,500.6 970.5,491.7 974.5,485.6 978.5,479.4 982.5,473.9 986.5,467.9 990.5,462.5 994.5,456.4 998.5,453.4 1002.5,451.1 1006.5,447.4 1010.5,441.1 1014.5,433.1 1018.5,423.7 1022.5,418.8 1026.5,415.3 1030.5,412.8 1034.5,411.2 1038.5,409.8 1042.5,408.9 1046.5,406.6 1050.5,405.6 1054.5,404.2 1058.5,404.7 1062.5,409.9 1066.5,413.4 1070.5,417.9 1074.5,423.8 1078.5,428.6 1082.5,434.6 1086.5,440.6 1090.5,447.1 1094.5,453.3 1098.5,458.6 1102.5,462.8 1106.5,466.7 1110.5,471.4 1114.5,475.4 1118.5,476.1 1122.5,476.1 1126.5,474.7 1130.5,472.4 1134.5,472.5 1138.5,470.9 1142.5,468.3 1146.5,465.6 1150.5,464.1 1154.5,459.3 1158.5,452.4 1162.5,447.0 1166.5,440.6 1170.5,432.8 1174.5,427.3 1178.5,424.4 1182.5,422.0 1186.5,418.9 1190.5,414.5 1194.5,410.4" fill="none" stroke="#ff0000" stroke-width="1"/>
<polyline points="2.5,191.0 6.5,172.0 10.5,156.0 14.5,141.0 18.5,132.0 22.5,130.6 26.5,132.6 30.5,139.8 34.5,143.4 38.5,148.8 42.5,157.2 46.5,164.4 50.5,168.8 54.5,182.6 58.5,183.6 62.5,179.2 66.5,173.8 70.5,170.8 74.5,155.8 78.5,134.8 82.5,121.8 86.5,108.2 90.5,96.4 94.5,89.2 98.5,115.8 102.5,141.0 106.5,167.8 110.5,190.4 114.5,218.8 118.5,226.2 122.5,225.2 126.5,224.4 130.5,218.6 134.5,205.8 138.5,197.8 142.5,192.8 146.5,180.8 150.5,185.8 154.5,187.0 158.5,187.4 162.5,182.2 166.5,180.8 170.5,172.2 174.5,175.6 178.5,182.4 182.5,199.2 186.5,214.4 190.5,226.2 194.5,241.2 198.5,251.6 202.5,257.2 206.5,263.2 210.5,265.6 214.5,256.2 218.5,247.0 222.5,243.6 226.5,236.6 230.5,231.8 234.5,228.8 238.5,226.2 242.5,221.8 246.5,218.2 250.5,217.6 254.5,220.8 258.5,218.8 262.5,209.8 266.5,216.8 270.5,218.4 274.5,214.6 278.5,217.4 282.5,221.2 286.5,223.4 290.5,215.6 294.5,214.2 298.5,213.4 302.5,215.6 306.5,204.4 310.5,203.8 314.5,196.0 318.5,191.8 322.5,179.6 326.5,171.4 330.5,163.2 334.5,160.8 338.5,154.2 342.5,159.0 346.5,163.4 350.5,168.4 354.5,175.0 358.5,186.8 362.5,207.4 366.5,230.6 370.5,248.0 374.5,263.6 378.5,270.8 382.5,268.4 386.5,263.8 390.5,270.8 394.5,274.4 398.5,280.8 402.5,288.6 406.5,293.8 410.5,293.8 414.5,301.2 418.5,304.6 422.5,303.8 426.5,313.2 430.5,323.0 434.5,331.0 438.5,346.4 442.5,367.8 446.5,381.6 450.5,387.0 454.5,395.8 458.5,399.6 462.5,395.4 466.5,387.4 470.5,384.2 474.5,377.4 478.5,369.2 482.5,366.8 486.5,367.6 490.5,368.0 494.5,364.0 498.5,359.8 502.5,346.8 506.5,336.2 510.5,327.0 514.5,316.4 518.5,308.0 522.5,312.0 526.5,315.0 530.5,322.0 534.5,337.6 538.5,360.0 542.5,376.8 546.5,393.0 550.5,405.0 554.5,411.8 558.5,404.2 562.5,394.8 566.5,383.2 570.5,367.6 574.5,349.8 578.5,337.6 582.5,324.2 586.5,310.4 590.5,301.0 594.5,303.2 598.5,302.6 602.5,296.8 606.5,295.2 610.5,304.0 614.5,300.8 618.5,305.2 622.5,323.4 626.5,332.6 630.5,330.0 634.5,325.8 638.5,316.0 642.5,297.6 646.5,288.4 650.5,282.0 654.5,275.6 658.5,272.8 662.5,271.4 666.5,267.6 670.5,271.2 674.5,282.6 678.5,297.4 682.5,320.4 686.5,343.0 690.5,358.4 694.5,376.2 698.5,387.4 702.5,395.6 706.5,412.8 710.5,432.0 714.5,447.4 718.5,467.4 722.5,485.2 726.5,484.2 730.5,483.8 734.5,481.8 738.5,483.8 742.5,476.2 746.5,487.6 750.5,489.8 754.5,491.4 758.5,486.6 762.5,490.6 766.5,484.6 770.5,483.2 774.5,486.2 778.5,492.6 782.5,496.2 786.5,495.8 790.5,501.8 794.5,504.8 798.5,507.2 802.5,511.2 806.5,520.2 810.5,527.0 814.5,525.0 818.5,514.2 822.5,498.6 826.5,476.8 830.5,454.4 834.5,434.6 838.5,422.6 842.5,416.4 846.5,414.0 850.5,407.6 854.5,406.8 858.5,407.2 862.5,407.4 866.5,412.0 870.5,427.6 874.5,446.2 878.5,463.2 882.5,477.6 886.5,486.2 890.5,494.0 894.5,496.2 898.5,496.4 902.5,499.0 906.5,507.0 910.5,514.6 914.5,524.4 918.5,526.6 922.5,525.2 926.5,520.8 930.5,513.4 934.5,508.8 938.5,512.4 942.5,511.6 946.5,506.6 950.5,497.8 954.5,490.6 958.5,486.0 962.5,488.2 966.5,484.2 970.5,476.4 974.5,462.2 978.5,443.6 982.5,425.6 986.5,422.0 990.5,427.0 994.5,430.8 998.5,438.8 1002.5,442.8 1006.5,440.2 1010.5,430.8 1014.5,420.8 1018.5,405.0 1022.5,393.6 1026.5,386.6 1030.5,382.8 1034.5,382.2 1038.5,386.6 1042.5,394.4 1046.5,402.8 1050.5,410.6 1054.5,419.2 1058.5,428.6 1062.5,443.0 1066.5,449.8 1070.5,455.2 1074.5,459.8 1078.5,460.4 1082.5,455.8 1086.5,458.8 1090.5,464.0 1094.5,469.2 1098.5,478.6 1102.5,481.6 1106.5,483.8 1110.5,487.2 1114.5,490.4 1118.5,491.8 1122.5,487.0 1126.5,477.6 1130.5,462.8 1134.5,452.4 1138.5,441.2 1142.5,437.0 1146.5,438.4 1150.5,446.0 1154.5,441.6 1158.5,429.8 1162.5,424.2 1166.5,417.4 1170.5,402.6 1174.5,402.2 1178.5,408.8 1182.5,407.6 1186.5,401.8 1190.5,401.2 1194.5,393.8" fill="none" stroke="#ffa500" stroke-width="1"/></g>
<rect x="1" y="23" width="1501" height="1" fill="#000"/><rect x="1" y="590" width="1501" height="1" fill="#000"/><rect x="1" y="23" width="1" height="568" fill="#000"/><rect x="1501" y="23" width="1" height="568" fill="#000"/>
<rect x="1502" y="26" width="2" height="1" fill="#000"/>
<rect x="1502" y="59" width="2" height="1" fill="#000"/>
<rect x="1502" y="92" width="2" height="1" fill="#000"/>
<rect x="1502" y="125" width="2" height="1" fill="#000"/>
<rect x="1502" y="158" width="2" height="1" fill="#000"/>
<rect x="1502" y="191" width="2" height="1" fill="#000"/>
<rect x="1502" y="224" width="2" height="1" fill="#000"/>
<rect x="1502" y="257" width="2" height="1" fill="#000"/>
<rect x="1502" y="290" width="2" height="1" fill="#000"/>
<rect x="1502" y="323" width="2" height="1" fill="#000"/>
<rect x="1502" y="356" width="2" height="1" fill="#000"/>
<rect x="1502" y="389" width="2" height="1" fill="#000"/>
<rect x="1502" y="422" width="2" height="1" fill="#000"/>
<rect x="1502" y="455" width="2" height="1" fill="#000"/>
<rect x="1502" y="488" width="2" height="1" fill="#000"/>
<rect x="1502" y="521" width="2" height="1" fill="#000"/>
<rect x="1502" y="554" width="2" height="1" fill="#000"/>
<rect x="1502" y="587" width="2" height="1" fill="#000"/>
<rect x="1" y="297" width="1502" height="2" fill="#ff0000"/>
<rect x="1" y="295" width="6" height="6" fill="#ff0000"/><rect x="3" y="297" width="2" height="2" fill="#fff"/>
<rect x="1495" y="295" width="6" height="6" fill="#ff0000"/><rect x="1497" y="297" width="2" height="2" fill="#fff"/>
<rect x="1" y="381" width="1502" height="2" fill="#ff0000"/>
<rect x="1" y="379" width="6" height="6" fill="#ff0000"/><rect x="3" y="381" width="2" height="2" fill="#fff"/>
<rect x="1495" y="379" width="6" height="6" fill="#ff0000"/><rect x="1497" y="381" width="2" height="2" fill="#fff"/>
<rect x="1" y="465" width="1502" height="2" fill="#00ff00"/>
<rect x="1" y="463" width="6" height="6" fill="#00ff00"/><rect x="3" y="465" width="2" height="2" fill="#fff"/>
<rect x="1495" y="463" width="6" height="6" fill="#00ff00"/><rect x="1497" y="465" width="2" height="2" fill="#fff"/>
<rect x="1" y="575" width="1502" height="2" fill="#0000ff"/>
<rect x="1503" y="380" width="42" height="11" fill="#000"/>
<text x="1507.0" y="390.0" font-size="10" fill="#fff" color="#fff" textLength="32.5" lengthAdjust="spacingAndGlyphs">0.68974</text>
<rect x="1503" y="292" width="42" height="11" fill="#ff0000"/>
<rect x="1503" y="376" width="42" height="11" fill="#ff0000"/>
<rect x="1503" y="460" width="42" height="11" fill="#00ff00"/>
<rect x="1503" y="570" width="42" height="11" fill="#0000ff"/>
<rect x="1" y="592" width="1501" height="1" fill="#000"/><rect x="1" y="696" width="1501" height="1" fill="#000"/><rect x="1" y="592" width="1" height="105" fill="#000"/><rect x="1501" y="592" width="1" height="105" fill="#000"/>
<line x1="2" y1="624.5" x2="1501" y2="624.5" stroke="#c0c0c0" stroke-dasharray="3,3"/>
<line x1="2" y1="665.5" x2="1501" y2="665.5" stroke="#c0c0c0" stroke-dasharray="3,3"/>
<rect x="1502" y="594" width="2" height="1" fill="#000"/>
<rect x="1502" y="695" width="2" height="1" fill="#000"/>
<polyline points="2.5,633.1 6.5,633.8 10.5,632.6 14.5,631.9 18.5,632.4 22.5,632.7 26.5,638.2 30.5,642.6 34.5,637.9 38.5,640.7 42.5,644.5 46.5,647.6 50.5,648.5 54.5,653.5 58.5,641.5 62.5,639.4 66.5,641.5 70.5,645.1 74.5,638.1 78.5,626.9 82.5,632.9 86.5,634.1 90.5,638.9 94.5,637.0 98.5,650.7 102.5,653.4 106.5,655.1 110.5,655.5 114.5,657.5 118.5,653.8 122.5,650.0 126.5,652.2 130.5,648.3 134.5,644.9 138.5,645.8 142.5,644.8 146.5,641.1 150.5,652.1 154.5,645.5 158.5,645.7 162.5,640.3 166.5,640.2 170.5,645.3 174.5,648.9 178.5,651.7 182.5,654.2 186.5,652.3 190.5,654.1 194.5,659.5 198.5,658.3 202.5,656.6 206.5,654.9 210.5,653.1 214.5,648.0 218.5,647.1 222.5,651.6 226.5,645.8 230.5,646.6 234.5,643.8 238.5,643.4 242.5,646.6 246.5,641.5 250.5,646.2 254.5,647.8 258.5,641.1 262.5,636.6 266.5,649.4 270.5,647.7 274.5,643.6 278.5,644.7 282.5,641.2 286.5,651.1 290.5,640.7 294.5,642.9 298.5,644.3 302.5,643.9 306.5,641.0 310.5,640.1 314.5,635.9 318.5,641.6 322.5,634.8 326.5,635.7 330.5,634.9 334.5,636.1 338.5,637.4 342.5,641.2 346.5,641.7 350.5,641.2 354.5,644.7 358.5,651.9 362.5,661.8 366.5,663.7 370.5,655.8 374.5,656.4 378.5,653.6 382.5,655.6 386.5,656.3 390.5,660.7 394.5,657.0 398.5,657.6 402.5,660.7 406.5,657.9 410.5,658.1 414.5,662.4 418.5,656.9 422.5,656.0 426.5,663.3 430.5,663.7 434.5,666.0 438.5,668.7 442.5,671.9 446.5,672.3 450.5,659.7 454.5,664.2 458.5,662.8 462.5,659.0 466.5,654.9 470.5,651.0 474.5,653.7 478.5,650.6 482.5,653.7 486.5,653.9 490.5,649.2 494.5,647.0 498.5,643.7 502.5,637.3 506.5,640.8 510.5,638.6 514.5,635.4 518.5,635.0 522.5,644.5 526.5,646.5 530.5,648.9 534.5,654.9 538.5,660.5 542.5,661.5 546.5,662.3 550.5,658.7 554.5,659.0 558.5,647.3 562.5,646.5 566.5,644.9 570.5,637.6 574.5,635.8 578.5,633.3 582.5,631.6 586.5,630.0 590.5,628.3 594.5,643.0 598.5,637.6 602.5,631.6 606.5,634.9 610.5,644.5 614.5,642.4 618.5,644.9 622.5,651.2 626.5,644.8 630.5,641.9 634.5,638.7 638.5,636.1 642.5,634.7 646.5,637.9 650.5,637.6 654.5,634.2 658.5,634.7 662.5,634.4 666.5,635.0 670.5,644.5 674.5,649.1 678.5,652.9 682.5,659.6 686.5,659.6 690.5,659.3 694.5,664.3 698.5,660.0 702.5,663.6 706.5,669.0 710.5,670.0 714.5,671.3 718.5,672.2 722.5,673.5 726.5,659.1 730.5,660.8 734.5,661.5 738.5,665.3 742.5,656.3 746.5,662.3 750.5,654.9 754.5,655.2 758.5,654.5 762.5,655.9 766.5,655.0 770.5,652.2 774.5,656.4 778.5,658.6 782.5,657.2 786.5,651.0 790.5,654.8 794.5,656.4 798.5,658.2 802.5,658.8 806.5,658.9 810.5,660.8 814.5,650.1 818.5,642.3 822.5,638.1 826.5,632.8 830.5,634.7 834.5,631.0 838.5,632.7 842.5,634.9 846.5,632.9 850.5,630.6 854.5,632.4 858.5,636.1 862.5,638.2 866.5,641.5 870.5,651.7 874.5,655.8 878.5,656.5 882.5,654.7 886.5,649.5 890.5,657.1 894.5,655.1 898.5,653.4 902.5,654.6 906.5,656.5 910.5,662.9 914.5,663.6 918.5,650.7 922.5,647.7 926.5,646.3 930.5,650.9 934.5,654.4 938.5,653.6 942.5,644.9 946.5,639.3 950.5,639.8 954.5,645.9 958.5,648.0 962.5,648.0 966.5,635.9 970.5,633.1 974.5,632.1 978.5,630.2 982.5,631.1 986.5,635.1 990.5,641.9 994.5,639.4 998.5,641.7 1002.5,638.0 1006.5,634.3 1010.5,632.8 1014.5,630.1 1018.5,626.9 1022.5,628.5 1026.5,629.5 1030.5,632.3 1034.5,632.6 1038.5,634.5 1042.5,641.9 1046.5,643.8 1050.5,645.4 1054.5,646.9 1058.5,649.7 1062.5,661.0 1066.5,650.8 1070.5,650.2 1074.5,650.5 1078.5,647.1 1082.5,652.5 1086.5,653.9 1090.5,656.0 1094.5,656.2 1098.5,658.6 1102.5,654.3 1106.5,654.8 1110.5,658.7 1114.5,658.7 1118.5,659.0 1122.5,642.9 1126.5,637.2 1130.5,634.2 1134.5,641.5 1138.5,640.7 1142.5,638.8 1146.5,641.2 1150.5,647.2 1154.5,637.0 1158.5,629.3 1162.5,636.2 1166.5,636.5 1170.5,632.4 1174.5,641.4 1178.5,640.4 1182.5,637.3 1186.5,633.2 1190.5,634.6 1194.5,634.6" fill="none" stroke="#1e90ff" stroke-width="1"/>
<rect x="1" y="698" width="1501" height="1" fill="#000"/><rect x="1" y="801" width="1501" height="1" fill="#000"/><rect x="1" y="698" width="1" height="104" fill="#000"/><rect x="1501" y="698" width="1" height="104" fill="#000"/>
<rect x="1502" y="700" width="2" height="1" fill="#000"/>
<rect x="1502" y="736" width="2" height="1" fill="#000"/>
<rect x="1502" y="800" width="2" height="1" fill="#000"/>
<g><rect x="2" y="736" width="1" height="12" fill="#c0c0c0"/>
<rect x="6" y="736" width="1" height="4" fill="#c0c0c0"/>
<rect x="10" y="733" width="1" height="4" fill="#c0c0c0"/>
<rect x="14" y="727" width="1" height="10" fill="#c0c0c0"/>
<rect x="18" y="723" width="1" height="14" fill="#c0c0c0"/>
<rect x="22" y="720" width="1" height="17" fill="#c0c0c0"/>
<rect x="26" y="719" width="1" height="18" fill="#c0c0c0"/>
<rect x="30" y="721" width="1" height="16" fill="#c0c0c0"/>
<rect x="34" y="721" width="1" height="16" fill="#c0c0c0"/>
<rect x="38" y="721" width="1" height="16" fill="#c0c0c0"/>
<rect x="42" y="724" width="1" height="13" fill="#c0c0c0"/>
<rect x="46" y="727" width="1" height="10" fill="#c0c0c0"/>
<rect x="50" y="730" width="1" height="7" fill="#c0c0c0"/>
<rect x="54" y="735" width="1" height="2" fill="#c0c0c0"/>
<rect x="58" y="734" width="1" height="3" fill="#c0c0c0"/>
<rect x="62" y="732" width="1" height="5" fill="#c0c0c0"/>
<rect x="66" y="731" width="1" height="6" fill="#c0c0c0"/>
<rect x="70" y="732" width="1" height="5" fill="#c0c0c0"/>
<rect x="74" y="729" width="1" height="8" fill="#c0c0c0"/>
<rect x="78" y="719" width="1" height="18" fill="#c0c0c0"/>
<rect x="82" y="714" width="1" height="23" fill="#c0c0c0"/>
<rect x="86" y="711" width="1" height="26" fill="#c0c0c0"/>
<rect x="90" y="711" width="1" height="26" fill="#c0c0c0"/>
<rect x="94" y="710" width="1" height="27" fill="#c0c0c0"/>
<rect x="98" y="719" width="1" height="18" fill="#c0c0c0"/>
<rect x="102" y="728" width="1" height="9" fill="#c0c0c0"/>
<rect x="106" y="736" width="1" height="1" fill="#c0c0c0"/>
<rect x="110" y="736" width="1" height="8" fill="#c0c0c0"/>
<rect x="114" y="736" width="1" height="15" fill="#c0c0c0"/>
<rect x="118" y="736" width="1" height="18" fill="#c0c0c0"/>
<rect x="122" y="736" width="1" height="19" fill="#c0c0c0"/>
<rect x="126" y="736" width="1" height="21" fill="#c0c0c0"/>
<rect x="130" y="736" width="1" height="20" fill="#c0c0c0"/>
<rect x="134" y="736" width="1" height="17" fill="#c0c0c0"/>
<rect x="138" y="736" width="1" height="15" fill="#c0c0c0"/>
<rect x="142" y="736" width="1" height="12" fill="#c0c0c0"/>
<rect x="146" y="736" width="1" height="8" fill="#c0c0c0"/>
<rect x="150" y="736" width="1" height="12" fill="#c0c0c0"/>
<rect x="154" y="736" width="1" height="10" fill="#c0c0c0"/>
<rect x="158" y="736" width="1" height="9" fill="#c0c0c0"/>
<rect x="162" y="736" width="1" height="5" fill="#c0c0c0"/>
<rect x="166" y="736" width="1" height="2" fill="#c0c0c0"/>
<rect x="170" y="736" width="1" height="2" fill="#c0c0c0"/>
<rect x="174" y="736" width="1" height="4" fill="#c0c0c0"/>
<rect x="178" y="736" width="1" height="8" fill="#c0c0c0"/>
<rect x="182" y="736" width="1" height="12" fill="#c0c0c0"/>
<rect x="186" y="736" width="1" height="14" fill="#c0c0c0"/>
<rect x="190" y="736" width="1" height="17" fill="#c0c0c0"/>
<rect x="194" y="736" width="1" height="23" fill="#c0c0c0"/>
<rect x="198" y="736" width="1" height="27" fill="#c0c0c0"/>
<rect x="202" y="736" width="1" height="29" fill="#c0c0c0"/>
<rect x="206" y="736" width="1" height="30" fill="#c0c0c0"/>
<rect x="210" y="736" width="1" height="29" fill="#c0c0c0"/>
<rect x="214" y="736" width="1" height="26" fill="#c0c0c0"/>
<rect x="218" y="736" width="1" height="23" fill="#c0c0c0"/>
<rect x="222" y="736" width="1" height="23" fill="#c0c0c0"/>
<rect x="226" y="736" width="1" height="20" fill="#c0c0c0"/>
<rect x="230" y="736" width="1" height="17" fill="#c0c0c0"/>
<rect x="234" y="736" width="1" height="14" fill="#c0c0c0"/>
<rect x="238" y="736" width="1" height="11" fill="#c0c0c0"/>
<rect x="242" y="736" width="1" height="10" fill="#c0c0c0"/>
<rect x="246" y="736" width="1" height="7" fill="#c0c0c0"/>
<rect x="250" y="736" width="1" height="7" fill="#c0c0c0"/>
<rect x="254" y="736" width="1" height="7" fill="#c0c0c0"/>
<rect x="258" y="736" width="1" height="4" fill="#c0c0c0"/>
<rect x="262" y="736" width="1" height="1" fill="#c0c0c0"/>
<rect x="266" y="736" width="1" height="2" fill="#c0c0c0"/>
<rect x="270" y="736" width="1" height="4" fill="#c0c0c0"/>
<rect x="274" y="736" width="1" height="2" fill="#c0c0c0"/>
<rect x="278" y="736" width="1" height="2" fill="#c0c0c0"/>
<rect x="282" y="736" width="1" height="1" fill="#c0c0c0"/>
<rect x="286" y="736" width="1" height="3" fill="#c0c0c0"/>
<rect x="290" y="736" width="1" height="1" fill="#c0c0c0"/>
<rect x="294" y="735" width="1" height="2" fill="#c0c0c0"/>
<rect x="298" y="735" width="1" height="2" fill="#c0c0c0"/>
<rect x="302" y="735" width="1" height="2" fill="#c0c0c0"/>
<rect x="306" y="733" width="1" height="4" fill="#c0c0c0"/>
<rect x="310" y="731" width="1" height="6" fill="#c0c0c0"/>
<rect x="314" y="727" width="1" height="10" fill="#c0c0c0"/>
<rect x="318" y="727" width="1" height="10" fill="#c0c0c0"/>
<rect x="322" y="722" width="1" height="15" fill="#c0c0c0"/>
<rect x="326" y="719" width="1" height="18" fill="#c0c0c0"/>
<rect x="330" y="717" width="1" height="20" fill="#c0c0c0"/>
<rect x="334" y="716" width="1" height="21" fill="#c0c0c0"/>
<rect x="338" y="715" width="1" height="22" fill="#c0c0c0"/>
<rect x="342" y="717" width="1" height="20" fill="#c0c0c0"/>
<rect x="346" y="719" width="1" height="18" fill="#c0c0c0"/>
<rect x="350" y="720" width="1" height="17" fill="#c0c0c0"/>
<rect x="354" y="722" width="1" height="15" fill="#c0c0c0"/>
<rect x="358" y="728" width="1" height="9" fill="#c0c0c0"/>
<rect x="362" y="736" width="1" height="2" fill="#c0c0c0"/>
<rect x="366" y="736" width="1" height="12" fill="#c0c0c0"/>
<rect x="370" y="736" width="1" height="16" fill="#c0c0c0"/>
<rect x="374" y="736" width="1" height="19" fill="#c0c0c0"/>
<rect x="378" y="736" width="1" height="21" fill="#c0c0c0"/>
<rect x="382" y="736" width="1" height="23" fill="#c0c0c0"/>
<rect x="386" y="736" width="1" height="24" fill="#c0c0c0"/>
<rect x="390" y="736" width="1" height="28" fill="#c0c0c0"/>
<rect x="394" y="736" width="1" height="30" fill="#c0c0c0"/>
<rect x="398" y="736" width="1" height="31" fill="#c0c0c0"/>
<rect x="402" y="736" width="1" height="33" fill="#c0c0c0"/>
<rect x="406" y="736" width="1" height="33" fill="#c0c0c0"/>
<rect x="410" y="736" width="1" height="34" fill="#c0c0c0"/>
<rect x="414" y="736" width="1" height="36" fill="#c0c0c0"/>
<rect x="418" y="736" width="1" height="35" fill="#c0c0c0"/>
<rect x="422" y="736" width="1" height="34" fill="#c0c0c0"/>
<rect x="426" y="736" width="1" height="37" fill="#c0c0c0"/>
<rect x="430" y="736" width="1" height="40" fill="#c0c0c0"/>
<rect x="434" y="736" width="1" height="43" fill="#c0c0c0"/>
<rect x="438" y="736" width="1" height="46" fill="#c0c0c0"/>
<rect x="442" y="736" width="1" height="52" fill="#c0c0c0"/>
<rect x="446" y="736" width="1" height="56" fill="#c0c0c0"/>
<rect x="450" y="736" width="1" height="54" fill="#c0c0c0"/>
<rect x="454" y="736" width="1" height="55" fill="#c0c0c0"/>
<rect x="458" y="736" width="1" height="55" fill="#c0c0c0"/>
<rect x="462" y="736" width="1" height="53" fill="#c0c0c0"/>
<rect x="466" y="736" width="1" height="50" fill="#c0c0c0"/>
<rect x="470" y="736" width="1" height="45" fill="#c0c0c0"/>
<rect x="474" y="736" width="1" height="42" fill="#c0c0c0"/>
<rect x="478" y="736" width="1" height="38" fill="#c0c0c0"/>
<rect x="482" y="736" width="1" height="36" fill="#c0c0c0"/>
<rect x="486" y="736" width="1" height="34" fill="#c0c0c0"/>
<rect x="490" y="736" width="1" height="31" fill="#c0c0c0"/>
<rect x="494" y="736" width="1" height="27" fill="#c0c0c0"/>
<rect x="498" y="736" width="1" height="22" fill="#c0c0c0"/>
<rect x="502" y="736" width="1" height="15" fill="#c0c0c0"/>
<rect x="506" y="736" width="1" height="11" fill="#c0c0c0"/>
<rect x="510" y="736" width="1" height="7" fill="#c0c0c0"/>
<rect x="514" y="736" width="1" height="2" fill="#c0c0c0"/>
<rect x="518" y="733" width="1" height="4" fill="#c0c0c0"/>
<rect x="522" y="734" width="1" height="3" fill="#c0c0c0"/>
<rect x="526" y="735" width="1" height="2" fill="#c0c0c0"/>
<rect x="530" y="736" width="1" height="1" fill="#c0c0c0"/>
<rect x="534" y="736" width="1" height="5" fill="#c0c0c0"/>
<rect x="538" y="736" width="1" height="11" fill="#c0c0c0"/>
<rect x="542" y="736" width="1" height="17" fill="#c0c0c0"/>
<rect x="546" y="736" width="1" height="22" fill="#c0c0c0"/>
<rect x="550" y="736" width="1" height="24" fill="#c0c0c0"/>
<rect x="554" y="736" width="1" height="26" fill="#c0c0c0"/>
<rect x="558" y="736" width="1" height="23" fill="#c0c0c0"/>
<rect x="562" y="736" width="1" height="20" fill="#c0c0c0"/>
<rect x="566" y="736" width="1" height="17" fill="#c0c0c0"/>
<rect x="570" y="736" width="1" height="11" fill="#c0c0c0"/>
<rect x="574" y="736" width="1" height="6" fill="#c0c0c0"/>
<rect x="578" y="736" width="1" height="1" fill="#c0c0c0"/>
<rect x="582" y="731" width="1" height="6" fill="#c0c0c0"/>
<rect x="586" y="726" width="1" height="11" fill="#c0c0c0"/>
<rect x="590" y="721" width="1" height="16" fill="#c0c0c0"/>
<rect x="594" y="723" width="1" height="14" fill="#c0c0c0"/>
<rect x="598" y="721" width="1" height="16" fill="#c0c0c0"/>
<rect x="602" y="717" width="1" height="20" fill="#c0c0c0"/>
<rect x="606" y="715" width="1" height="22" fill="#c0c0c0"/>
<rect x="610" y="718" width="1" height="19" fill="#c0c0c0"/>
<rect x="614" y="720" width="1" height="17" fill="#c0c0c0"/>
<rect x="618" y="722" width="1" height="15" fill="#c0c0c0"/>
<rect x="622" y="728" width="1" height="9" fill="#c0c0c0"/>
<rect x="626" y="729" width="1" height="8" fill="#c0c0c0"/>
<rect x="630" y="729" width="1" height="8" fill="#c0c0c0"/>
<rect x="634" y="726" width="1" height="11" fill="#c0c0c0"/>
<rect x="638" y="723" width="1" height="14" fill="#c0c0c0"/>
<rect x="642" y="720" width="1" height="17" fill="#c0c0c0"/>
<rect x="646" y="719" width="1" height="18" fill="#c0c0c0"/>
<rect x="650" y="718" width="1" height="19" fill="#c0c0c0"/>
<rect x="654" y="716" width="1" height="21" fill="#c0c0c0"/>
<rect x="658" y="714" width="1" height="23" fill="#c0c0c0"/>
<rect x="662" y="713" width="1" height="24" fill="#c0c0c0"/>
<rect x="666" y="713" width="1" height="24" fill="#c0c0c0"/>
<rect x="670" y="716" width="1" height="21" fill="#c0c0c0"/>
<rect x="674" y="722" width="1" height="15" fill="#c0c0c0"/>
<rect x="678" y="728" width="1" height="9" fill="#c0c0c0"/>
<rect x="682" y="736" width="1" height="1" fill="#c0c0c0"/>
<rect x="686" y="736" width="1" height="7" fill="#c0c0c0"/>
<rect x="690" y="736" width="1" height="13" fill="#c0c0c0"/>
<rect x="694" y="736" width="1" height="20" fill="#c0c0c0"/>
<rect x="698" y="736" width="1" height="24" fill="#c0c0c0"/>
<rect x="702" y="736" width="1" height="29" fill="#c0c0c0"/>
<rect x="706" y="736" width="1" height="38" fill="#c0c0c0"/>
<rect x="710" y="736" width="1" height="45" fill="#c0c0c0"/>
<rect x="714" y="736" width="1" height="51" fill="#c0c0c0"/>
<rect x="718" y="736" width="1" height="56" fill="#c0c0c0"/>
<rect x="722" y="736" width="1" height="61" fill="#c0c0c0"/>
<rect x="726" y="736" width="1" height="59" fill="#c0c0c0"/>
<rect x="730" y="736" width="1" height="58" fill="#c0c0c0"/>
<rect x="734" y="736" width="1" height="58" fill="#c0c0c0"/>
<rect x="738" y="736" width="1" height="59" fill="#c0c0c0"/>
<rect x="742" y="736" width="1" height="56" fill="#c0c0c0"/>
<rect x="746" y="736" width="1" height="58" fill="#c0c0c0"/>
<rect x="750" y="736" width="1" height="55" fill="#c0c0c0"/>
<rect x="754" y="736" width="1" height="53" fill="#c0c0c0"/>
<rect x="758" y="736" width="1" height="50" fill="#c0c0c0"/>
<rect x="762" y="736" width="1" height="48" fill="#c0c0c0"/>
<rect x="766" y="736" width="1" height="45" fill="#c0c0c0"/>
<rect x="770" y="736" width="1" height="42" fill="#c0c0c0"/>
<rect x="774" y="736" width="1" height="41" fill="#c0c0c0"/>
<rect x="778" y="736" width="1" height="41" fill="#c0c0c0"/>
<rect x="782" y="736" width="1" height="41" fill="#c0c0c0"/>
<rect x="786" y="736" width="1" height="37" fill="#c0c0c0"/>
<rect x="790" y="736" width="1" height="36" fill="#c0c0c0"/>
<rect x="794" y="736" width="1" height="36" fill="#c0c0c0"/>
<rect x="798" y="736" width="1" height="36" fill="#c0c0c0"/>
<rect x="802" y="736" width="1" height="37" fill="#c0c0c0"/>
<rect x="806" y="736" width="1" height="37" fill="#c0c0c0"/>
<rect x="810" y="736" width="1" height="37" fill="#c0c0c0"/>
<rect x="814" y="736" width="1" height="34" fill="#c0c0c0"/>
<rect x="818" y="736" width="1" height="27" fill="#c0c0c0"/>
<rect x="822" y="736" width="1" height="19" fill="#c0c0c0"/>
<rect x="826" y="736" width="1" height="10" fill="#c0c0c0"/>
<rect x="830" y="736" width="1" height="4" fill="#c0c0c0"/>
<rect x="834" y="732" width="1" height="5" fill="#c0c0c0"/>
<rect x="838" y="727" width="1" height="10" fill="#c0c0c0"/>
<rect x="842" y="724" width="1" height="13" fill="#c0c0c0"/>
<rect x="846" y="721" width="1" height="16" fill="#c0c0c0"/>
<rect x="850" y="717" width="1" height="20" fill="#c0c0c0"/>
<rect x="854" y="715" width="1" height="22" fill="#c0c0c0"/>
<rect x="858" y="714" width="1" height="23" fill="#c0c0c0"/>
<rect x="862" y="715" width="1" height="22" fill="#c0c0c0"/>
<rect x="866" y="717" width="1" height="20" fill="#c0c0c0"/>
<rect x="870" y="723" width="1" height="14" fill="#c0c0c0"/>
<rect x="874" y="730" width="1" height="7" fill="#c0c0c0"/>
<rect x="878" y="736" width="1" height="1" fill="#c0c0c0"/>
<rect x="882" y="736" width="1" height="4" fill="#c0c0c0"/>
<rect x="886" y="736" width="1" height="6" fill="#c0c0c0"/>
<rect x="890" y="736" width="1" height="10" fill="#c0c0c0"/>
<rect x="894" y="736" width="1" height="13" fill="#c0c0c0"/>
<rect x="898" y="736" width="1" height="15" fill="#c0c0c0"/>
<rect x="902" y="736" width="1" height="17" fill="#c0c0c0"/>
<rect x="906" y="736" width="1" height="19" fill="#c0c0c0"/>
<rect x="910" y="736" width="1" height="24" fill="#c0c0c0"/>
<rect x="914" y="736" width="1" height="28" fill="#c0c0c0"/>
<rect x="918" y="736" width="1" height="26" fill="#c0c0c0"/>
<rect x="922" y="736" width="1" height="24" fill="#c0c0c0"/>
<rect x="926" y="736" width="1" height="21" fill="#c0c0c0"/>
<rect x="930" y="736" width="1" height="20" fill="#c0c0c0"/>
<rect x="934" y="736" width="1" height="21" fill="#c0c0c0"/>
<rect x="938" y="736" width="1" height="22" fill="#c0c0c0"/>
<rect x="942" y="736" width="1" height="18" fill="#c0c0c0"/>
<rect x="946" y="736" width="1" height="13" fill="#c0c0c0"/>
<rect x="950" y="736" width="1" height="8" fill="#c0c0c0"/>
<rect x="954" y="736" width="1" height="8" fill="#c0c0c0"/>
<rect x="958" y="736" width="1" height="8" fill="#c0c0c0"/>
<rect x="962" y="736" width="1" height="8" fill="#c0c0c0"/>
<rect x="966" y="736" width="1" height="2" fill="#c0c0c0"/>
<rect x="970" y="732" width="1" height="5" fill="#c0c0c0"/>
<rect x="974" y="726" width="1" height="11" fill="#c0c0c0"/>
<rect x="978" y="721" width="1" height="16" fill="#c0c0c0"/>
<rect x="982" y="717" width="1" height="20" fill="#c0c0c0"/>
<rect x="986" y="716" width="1" height="21" fill="#c0c0c0"/>
<rect x="990" y="718" width="1" height="19" fill="#c0c0c0"/>
<rect x="994" y="718" width="1" height="19" fill="#c0c0c0"/>
<rect x="998" y="720" width="1" height="17" fill="#c0c0c0"/>
<rect x="1002" y="719" width="1" height="18" fill="#c0c0c0"/>
<rect x="1006" y="717" width="1" height="20" fill="#c0c0c0"/>
<rect x="1010" y="715" width="1" height="22" fill="#c0c0c0"/>
<rect x="1014" y="712" width="1" height="25" fill="#c0c0c0"/>
<rect x="1018" y="708" width="1" height="29" fill="#c0c0c0"/>
<rect x="1022" y="705" width="1" height="32" fill="#c0c0c0"/>
<rect x="1026" y="704" width="1" height="33" fill="#c0c0c0"/>
<rect x="1030" y="704" width="1" height="33" fill="#c0c0c0"/>
<rect x="1034" y="705" width="1" height="32" fill="#c0c0c0"/>
<rect x="1038" y="707" width="1" height="30" fill="#c0c0c0"/>
<rect x="1042" y="710" width="1" height="27" fill="#c0c0c0"/>
<rect x="1046" y="714" width="1" height="23" fill="#c0c0c0"/>
<rect x="1050" y="718" width="1" height="19" fill="#c0c0c0"/>
<rect x="1054" y="721" width="1" height="16" fill="#c0c0c0"/>
<rect x="1058" y="725" width="1" height="12" fill="#c0c0c0"/>
<rect x="1062" y="733" width="1" height="4" fill="#c0c0c0"/>
<rect x="1066" y="736" width="1" height="1" fill="#c0c0c0"/>
<rect x="1070" y="736" width="1" height="3" fill="#c0c0c0"/>
<rect x="1074" y="736" width="1" height="4" fill="#c0c0c0"/>
<rect x="1078" y="736" width="1" height="5" fill="#c0c0c0"/>
<rect x="1082" y="736" width="1" height="7" fill="#c0c0c0"/>
<rect x="1086" y="736" width="1" height="9" fill="#c0c0c0"/>
<rect x="1090" y="736" width="1" height="12" fill="#c0c0c0"/>
<rect x="1094" y="736" width="1" height="14" fill="#c0c0c0"/>
<rect x="1098" y="736" width="1" height="16" fill="#c0c0c0"/>
<rect x="1102" y="736" width="1" height="17" fill="#c0c0c0"/>
<rect x="1106" y="736" width="1" height="17" fill="#c0c0c0"/>
<rect x="1110" y="736" width="1" height="19" fill="#c0c0c0"/>
<rect x="1114" y="736" width="1" height="20" fill="#c0c0c0"/>
<rect x="1118" y="736" width="1" height="21" fill="#c0c0c0"/>
<rect x="1122" y="736" width="1" height="17" fill="#c0c0c0"/>
<rect x="1126" y="736" width="1" height="12" fill="#c0c0c0"/>
<rect x="1130" y="736" width="1" height="6" fill="#c0c0c0"/>
<rect x="1134" y="736" width="1" height="4" fill="#c0c0c0"/>
<rect x="1138" y="736" width="1" height="2" fill="#c0c0c0"/>
<rect x="1142" y="736" width="1" height="1" fill="#c0c0c0"/>
<rect x="1146" y="735" width="1" height="2" fill="#c0c0c0"/>
<rect x="1150" y="736" width="1" height="1" fill="#c0c0c0"/>
<rect x="1154" y="733" width="1" height="4" fill="#c0c0c0"/>
<rect x="1158" y="726" width="1" height="11" fill="#c0c0c0"/>
<rect x="1162" y="724" width="1" height="13" fill="#c0c0c0"/>
<rect x="1166" y="722" width="1" height="15" fill="#c0c0c0"/>
<rect x="1170" y="719" width="1" height="18" fill="#c0c0c0"/>
<rect x="1174" y="720" width="1" height="17" fill="#c0c0c0"/>
<rect x="1178" y="720" width="1" height="17" fill="#c0c0c0"/>
<rect x="1182" y="720" width="1" height="17" fill="#c0c0c0"/>
<rect x="1186" y="717" width="1" height="20" fill="#c0c0c0"/>
<rect x="1190" y="715" width="1" height="22" fill="#c0c0c0"/>
<rect x="1194" y="714" width="1" height="23" fill="#c0c0c0"/></g>
<polyline points="2.5,779.3 6.5,772.5 10.5,765.7 14.5,755.0 18.5,748.3 22.5,741.4 26.5,734.6 30.5,729.7 34.5,728.0 38.5,725.1 42.5,723.2 46.5,722.6 50.5,722.9 54.5,724.3 58.5,725.9 62.5,727.3 66.5,728.4 70.5,729.6 74.5,730.5 78.5,729.9 82.5,728.4 86.5,726.2 90.5,723.5 94.5,720.9 98.5,719.4 102.5,719.1 106.5,719.6 110.5,721.2 114.5,724.7 118.5,729.2 122.5,734.2 126.5,739.2 130.5,744.3 134.5,748.1 138.5,750.6 142.5,751.9 146.5,752.0 150.5,751.7 154.5,750.8 158.5,749.8 162.5,748.1 166.5,746.1 170.5,744.4 174.5,743.2 178.5,742.7 182.5,743.0 186.5,743.3 190.5,744.1 194.5,745.6 198.5,748.1 202.5,751.1 206.5,754.2 210.5,757.0 214.5,759.1 218.5,760.3 222.5,761.3 226.5,761.5 230.5,760.9 234.5,759.5 238.5,757.5 242.5,755.3 246.5,752.9 250.5,750.8 254.5,749.0 258.5,746.9 262.5,744.7 266.5,743.1 270.5,741.9 274.5,740.9 278.5,739.9 282.5,739.1 286.5,738.7 290.5,738.0 294.5,737.4 298.5,737.3 302.5,736.9 306.5,736.1 310.5,735.3 314.5,734.1 318.5,733.0 322.5,731.1 326.5,729.3 330.5,727.3 334.5,725.1 338.5,723.0 342.5,721.2 346.5,719.9 350.5,719.1 354.5,718.6 358.5,719.2 362.5,721.3 366.5,724.7 370.5,728.7 374.5,733.1 378.5,737.5 382.5,742.0 386.5,746.5 390.5,751.1 394.5,755.4 398.5,758.5 402.5,760.9 406.5,762.9 410.5,764.5 414.5,766.2 418.5,767.6 422.5,768.7 426.5,769.7 430.5,770.8 434.5,772.1 438.5,773.6 442.5,775.6 446.5,778.1 450.5,780.1 454.5,782.3 458.5,784.7 462.5,786.4 466.5,787.6 470.5,787.8 474.5,787.3 478.5,785.8 482.5,783.6 486.5,781.4 490.5,778.7 494.5,775.5 498.5,772.0 502.5,768.1 506.5,764.3 510.5,760.4 514.5,756.4 518.5,752.1 522.5,748.0 526.5,744.5 530.5,741.6 534.5,739.7 538.5,739.3 542.5,739.9 546.5,741.6 550.5,744.1 554.5,747.3 558.5,750.1 562.5,752.5 566.5,754.3 570.5,755.0 574.5,754.4 578.5,752.5 582.5,749.5 586.5,745.7 590.5,741.1 594.5,737.1 598.5,733.2 602.5,729.2 606.5,725.6 610.5,723.0 614.5,721.2 618.5,720.3 622.5,720.5 626.5,721.5 630.5,722.1 634.5,722.7 638.5,723.4 642.5,723.9 646.5,724.0 650.5,723.8 654.5,723.1 658.5,721.6 662.5,719.8 666.5,718.0 670.5,716.9 674.5,716.7 678.5,717.6 682.5,719.6 686.5,722.4 690.5,726.0 694.5,730.6 698.5,735.8 702.5,741.6 706.5,748.0 710.5,754.5 714.5,761.1 718.5,767.4 722.5,773.4 726.5,778.6 730.5,782.9 734.5,786.6 738.5,790.0 742.5,792.0 746.5,793.5 750.5,794.0 754.5,793.6 758.5,792.3 762.5,791.0 766.5,789.5 770.5,787.8 774.5,785.8 778.5,784.1 782.5,782.1 786.5,780.1 790.5,778.3 794.5,776.7 798.5,775.5 802.5,774.5 806.5,773.9 810.5,773.5 814.5,772.6 818.5,771.1 822.5,769.2 826.5,766.3 830.5,762.7 834.5,758.3 838.5,753.2 842.5,747.8 846.5,742.0 850.5,736.1 854.5,730.7 858.5,726.1 862.5,722.7 866.5,720.2 870.5,719.1 874.5,719.5 878.5,720.8 882.5,723.0 886.5,725.8 890.5,729.3 894.5,733.2 898.5,737.2 902.5,741.2 906.5,744.7 910.5,748.0 914.5,751.1 918.5,753.5 922.5,755.5 926.5,756.6 930.5,757.4 934.5,758.1 938.5,758.6 942.5,758.6 946.5,757.4 950.5,755.2 954.5,753.2 958.5,751.4 962.5,750.0 966.5,748.1 970.5,745.2 974.5,741.7 978.5,738.0 982.5,734.5 986.5,731.3 990.5,728.4 994.5,725.5 998.5,722.8 1002.5,720.7 1006.5,719.1 1010.5,717.8 1014.5,716.8 1018.5,715.8 1022.5,714.6 1026.5,713.1 1030.5,711.6 1034.5,710.0 1038.5,708.6 1042.5,707.8 1046.5,707.7 1050.5,708.4 1054.5,709.9 1058.5,712.1 1062.5,715.3 1066.5,718.8 1070.5,722.6 1074.5,726.3 1078.5,729.7 1082.5,732.9 1086.5,735.9 1090.5,738.9 1094.5,741.6 1098.5,743.7 1102.5,745.6 1106.5,747.2 1110.5,748.9 1114.5,750.6 1118.5,752.2 1122.5,753.1 1126.5,753.1 1130.5,752.3 1134.5,750.9 1138.5,749.3 1142.5,747.3 1146.5,745.0 1150.5,742.7 1154.5,740.0 1158.5,737.0 1162.5,734.3 1166.5,732.0 1170.5,729.7 1174.5,727.7 1178.5,726.0 1182.5,724.3 1186.5,722.2 1190.5,720.3 1194.5,719.0" fill="none" stroke="#ff0000" stroke-width="1" stroke-dasharray="4,3"/>
<rect x="2" y="802" width="1" height="3" fill="#000"/>
<rect x="66" y="802" width="1" height="3" fill="#000"/>
<rect x="130" y="802" width="1" height="3" fill="#000"/>
<rect x="194" y="802" width="1" height="3" fill="#000"/>
<rect x="258" y="802" width="1" height="3" fill="#000"/>
<rect x="322" y="802" width="1" height="3" fill="#000"/>
<rect x="386" y="802" width="1" height="3" fill="#000"/>
<rect x="450" y="802" width="1" height="3" fill="#000"/>
<rect x="514" y="802" width="1" height="3" fill="#000"/>
<rect x="578" y="802" width="1" height="3" fill="#000"/>
<rect x="642" y="802" width="1" height="3" fill="#000"/>
<rect x="706" y="802" width="1" height="3" fill="#000"/>
<rect x="770" y="802" width="1" height="3" fill="#000"/>
<rect x="834" y="802" width="1" height="3" fill="#000"/>
<rect x="898" y="802" width="1" height="3" fill="#000"/>
<rect x="962" y="802" width="1" height="3" fill="#000"/>
<rect x="1026" y="802" width="1" height="3" fill="#000"/>
<rect x="1090" y="802" width="1" height="3" fill="#000"/>
<rect x="1154" y="802" width="1" height="3" fill="#000"/>
<rect x="0" y="822" width="1545" height="2" fill="#e6e6e6"/>
<rect x="0" y="824" width="1545" height="20" fill="#f0f0f0"/>
<rect x="0" y="824" width="1545" height="1" fill="#000"/>
<rect x="0" y="844" width="1545" height="2" fill="#fbfbfb"/>
<rect x="208" y="824" width="102" height="18" fill="#fff"/>
<rect x="207" y="824" width="1" height="19" fill="#000"/><rect x="310" y="824" width="1" height="19" fill="#000"/><rect x="207" y="842" width="104" height="1" fill="#000"/>
<rect x="107" y="827" width="1" height="14" fill="#505050"/>
<rect x="415" y="827" width="1" height="14" fill="#505050"/>
<rect x="520" y="827" width="1" height="14" fill="#505050"/>
<polygon points="1522,829 1522,837 1518,833" fill="#a0a0a0" shape-rendering="auto"/><polygon points="1536,829 1536,837 1540,833" fill="#a0a0a0" shape-rendering="auto"/>
<g shape-rendering="auto">
<text x="2.7" y="11.0" font-size="9.5" fill="#404040" color="#404040" textLength="17.6" lengthAdjust="spacingAndGlyphs" style="stroke-width:0px">M15</text>
<text x="30.3" y="11.0" font-size="9.5" fill="#404040" color="#404040" textLength="17.6" lengthAdjust="spacingAndGlyphs" style="stroke-width:0px">M30</text>
<text x="61.4" y="11.0" font-size="9.5" fill="#404040" color="#404040" textLength="12.0" lengthAdjust="spacingAndGlyphs" style="stroke-width:0px">H1</text>
<text x="88.7" y="11.0" font-size="9.5" fill="#404040" color="#404040" textLength="12.5" lengthAdjust="spacingAndGlyphs" style="stroke-width:0px">H4</text>
<text x="117.6" y="11.0" font-size="9.5" fill="#404040" color="#404040" textLength="11.6" lengthAdjust="spacingAndGlyphs" style="stroke-width:0px">D1</text>
<text x="144.8" y="11.0" font-size="9.5" fill="#404040" color="#404040" textLength="14.3" lengthAdjust="spacingAndGlyphs" style="stroke-width:0px">W1</text>
<text x="171.9" y="11.0" font-size="9.5" fill="#404040" color="#404040" textLength="14.4" lengthAdjust="spacingAndGlyphs" style="stroke-width:0px">MN</text>
<polygon points="4,29 12,29 8,33.5" fill="#000"/>
<text x="17.9" y="35.0" font-size="10" fill="#000" color="#000" textLength="64.8" lengthAdjust="spacingAndGlyphs">AUDUSD,Daily</text>
<text x="89.2" y="35.0" font-size="10" fill="#000" color="#000" textLength="140.6" lengthAdjust="spacingAndGlyphs">0.68929 0.69050 0.68928 0.68974</text>
<text x="1507.0" y="30.0" font-size="10" fill="#000" color="#000" textLength="32.5" lengthAdjust="spacingAndGlyphs">0.73240</text>
<text x="1507.0" y="63.0" font-size="10" fill="#000" color="#000" textLength="32.5" lengthAdjust="spacingAndGlyphs">0.72850</text>
<text x="1507.0" y="96.0" font-size="10" fill="#000" color="#000" textLength="32.5" lengthAdjust="spacingAndGlyphs">0.72460</text>
<text x="1507.0" y="129.0" font-size="10" fill="#000" color="#000" textLength="32.5" lengthAdjust="spacingAndGlyphs">0.72060</text>
<text x="1507.0" y="162.0" font-size="10" fill="#000" color="#000" textLength="32.5" lengthAdjust="spacingAndGlyphs">0.71670</text>
<text x="1507.0" y="195.0" font-size="10" fill="#000" color="#000" textLength="32.5" lengthAdjust="spacingAndGlyphs">0.71280</text>
<text x="1507.0" y="228.0" font-size="10" fill="#000" color="#000" textLength="32.5" lengthAdjust="spacingAndGlyphs">0.70890</text>
<text x="1507.0" y="261.0" font-size="10" fill="#000" color="#000" textLength="32.5" lengthAdjust="spacingAndGlyphs">0.70490</text>
<text x="1507.0" y="294.0" font-size="10" fill="#000" color="#000" textLength="32.5" lengthAdjust="spacingAndGlyphs">0.70100</text>
<text x="1507.0" y="327.0" font-size="10" fill="#000" color="#000" textLength="32.5" lengthAdjust="spacingAndGlyphs">0.69710</text>
<text x="1507.0" y="360.0" font-size="10" fill="#000" color="#000" textLength="32.5" lengthAdjust="spacingAndGlyphs">0.69320</text>
<text x="1507.0" y="426.0" font-size="10" fill="#000" color="#000" textLength="32.5" lengthAdjust="spacingAndGlyphs">0.68530</text>
<text x="1507.0" y="459.0" font-size="10" fill="#000" color="#000" textLength="32.5" lengthAdjust="spacingAndGlyphs">0.68140</text>
<text x="1507.0" y="492.0" font-size="10" fill="#000" color="#000" textLength="32.5" lengthAdjust="spacingAndGlyphs">0.67750</text>
<text x="1507.0" y="525.0" font-size="10" fill="#000" color="#000" textLength="32.5" lengthAdjust="spacingAndGlyphs">0.67350</text>
<text x="1507.0" y="558.0" font-size="10" fill="#000" color="#000" textLength="32.5" lengthAdjust="spacingAndGlyphs">0.66960</text>
<text x="1507.0" y="591.0" font-size="10" fill="#000" color="#000" textLength="32.5" lengthAdjust="spacingAndGlyphs">0.66570</text>
<text x="1507.0" y="301.0" font-size="10" fill="#fff" color="#fff" textLength="32.5" lengthAdjust="spacingAndGlyphs">0.70001</text>
<text x="1507.0" y="385.0" font-size="10" fill="#fff" color="#fff" textLength="32.5" lengthAdjust="spacingAndGlyphs">0.69012</text>
<text x="1507.0" y="469.0" font-size="10" fill="#fff" color="#fff" textLength="32.5" lengthAdjust="spacingAndGlyphs">0.68008</text>
<text x="1507.0" y="579.0" font-size="10" fill="#fff" color="#fff" textLength="32.5" lengthAdjust="spacingAndGlyphs">0.66702</text>
<text x="6.2" y="605.0" font-size="10" fill="#000" color="#000" textLength="67.7" lengthAdjust="spacingAndGlyphs">RSI(14) 60.2245</text>
<text x="1505.4" y="603.0" font-size="10" fill="#000" color="#000" textLength="14.3" lengthAdjust="spacingAndGlyphs">100</text>
<text x="1504.5" y="628.0" font-size="10" fill="#000" color="#000" textLength="9.5" lengthAdjust="spacingAndGlyphs">70</text>
<text x="1504.5" y="669.0" font-size="10" fill="#000" color="#000" textLength="9.5" lengthAdjust="spacingAndGlyphs">30</text>
<text x="1505.4" y="693.0" font-size="10" fill="#000" color="#000" textLength="4.8" lengthAdjust="spacingAndGlyphs">0</text>
<text x="6.2" y="711.0" font-size="10" fill="#000" color="#000" textLength="147.7" lengthAdjust="spacingAndGlyphs">MACD(12,26,9) 0.002053 0.001634</text>
<text x="1505.2" y="709.0" font-size="10" fill="#000" color="#000" textLength="37.2" lengthAdjust="spacingAndGlyphs">0.003421</text>
<text x="1505.2" y="740.0" font-size="10" fill="#000" color="#000" textLength="17.5" lengthAdjust="spacingAndGlyphs">0.00</text>
<text x="1505.2" y="798.0" font-size="10" fill="#000" color="#000" textLength="42.0" lengthAdjust="spacingAndGlyphs">-0.006069</text>
<text x="1.0" y="814.0" font-size="10" fill="#000" color="#000" textLength="45.5" lengthAdjust="spacingAndGlyphs">9 Jan 2019</text>
<text x="65.0" y="814.0" font-size="10" fill="#000" color="#000" textLength="50.7" lengthAdjust="spacingAndGlyphs">28 Jan 2019</text>
<text x="129.0" y="814.0" font-size="10" fill="#000" color="#000" textLength="51.7" lengthAdjust="spacingAndGlyphs">15 Feb 2019</text>
<text x="193.0" y="814.0" font-size="10" fill="#000" color="#000" textLength="46.5" lengthAdjust="spacingAndGlyphs">6 Mar 2019</text>
<text x="257.0" y="814.0" font-size="10" fill="#000" color="#000" textLength="51.7" lengthAdjust="spacingAndGlyphs">25 Mar 2019</text>
<text x="321.0" y="814.0" font-size="10" fill="#000" color="#000" textLength="49.6" lengthAdjust="spacingAndGlyphs">12 Apr 2019</text>
<text x="385.0" y="814.0" font-size="10" fill="#000" color="#000" textLength="48.1" lengthAdjust="spacingAndGlyphs">1 May 2019</text>
<text x="449.0" y="814.0" font-size="10" fill="#000" color="#000" textLength="53.2" lengthAdjust="spacingAndGlyphs">20 May 2019</text>
<text x="513.0" y="814.0" font-size="10" fill="#000" color="#000" textLength="45.5" lengthAdjust="spacingAndGlyphs">7 Jun 2019</text>
<text x="577.0" y="814.0" font-size="10" fill="#000" color="#000" textLength="50.7" lengthAdjust="spacingAndGlyphs">26 Jun 2019</text>
<text x="641.0" y="814.0" font-size="10" fill="#000" color="#000" textLength="47.6" lengthAdjust="spacingAndGlyphs">15 Jul 2019</text>
<text x="705.0" y="814.0" font-size="10" fill="#000" color="#000" textLength="46.6" lengthAdjust="spacingAndGlyphs">2 Aug 2019</text>
<text x="769.0" y="814.0" font-size="10" fill="#000" color="#000" textLength="51.7" lengthAdjust="spacingAndGlyphs">21 Aug 2019</text>
<text x="833.0" y="814.0" font-size="10" fill="#000" color="#000" textLength="47.1" lengthAdjust="spacingAndGlyphs">9 Sep 2019</text>
<text x="897.0" y="814.0" font-size="10" fill="#000" color="#000" textLength="52.2" lengthAdjust="spacingAndGlyphs">27 Sep 2019</text>
<text x="961.0" y="814.0" font-size="10" fill="#000" color="#000" textLength="50.1" lengthAdjust="spacingAndGlyphs">16 Oct 2019</text>
<text x="1025.0" y="814.0" font-size="10" fill="#000" color="#000" textLength="47.1" lengthAdjust="spacingAndGlyphs">4 Nov 2019</text>
<text x="1089.0" y="814.0" font-size="10" fill="#000" color="#000" textLength="52.2" lengthAdjust="spacingAndGlyphs">22 Nov 2019</text>
<text x="1153.0" y="814.0" font-size="10" fill="#000" color="#000" textLength="51.5" lengthAdjust="spacingAndGlyphs">11 Dec 2019</text>
<text x="15.5" y="839.0" font-size="12" fill="#6a6a6a" color="#6a6a6a" textLength="79.3" lengthAdjust="spacingAndGlyphs" style="stroke-width:0px">EURUSD,Daily</text>
<text x="117.3" y="839.0" font-size="12" fill="#6a6a6a" color="#6a6a6a" textLength="79.5" lengthAdjust="spacingAndGlyphs" style="stroke-width:0px">USDCHF,Daily</text>
<text x="218.0" y="839.0" font-size="12" fill="#000" color="#000" textLength="82.0" lengthAdjust="spacingAndGlyphs" style="stroke-width:0.15px">AUDUSD,Daily</text>
<text x="322.0" y="839.0" font-size="12" fill="#6a6a6a" color="#6a6a6a" textLength="81.0" lengthAdjust="spacingAndGlyphs" style="stroke-width:0px">USDCAD,Daily</text>
<text x="425.5" y="839.0" font-size="12" fill="#6a6a6a" color="#6a6a6a" textLength="82.5" lengthAdjust="spacingAndGlyphs" style="stroke-width:0px">USDCNH,Daily</text>
</g>
</svg></body></html>
